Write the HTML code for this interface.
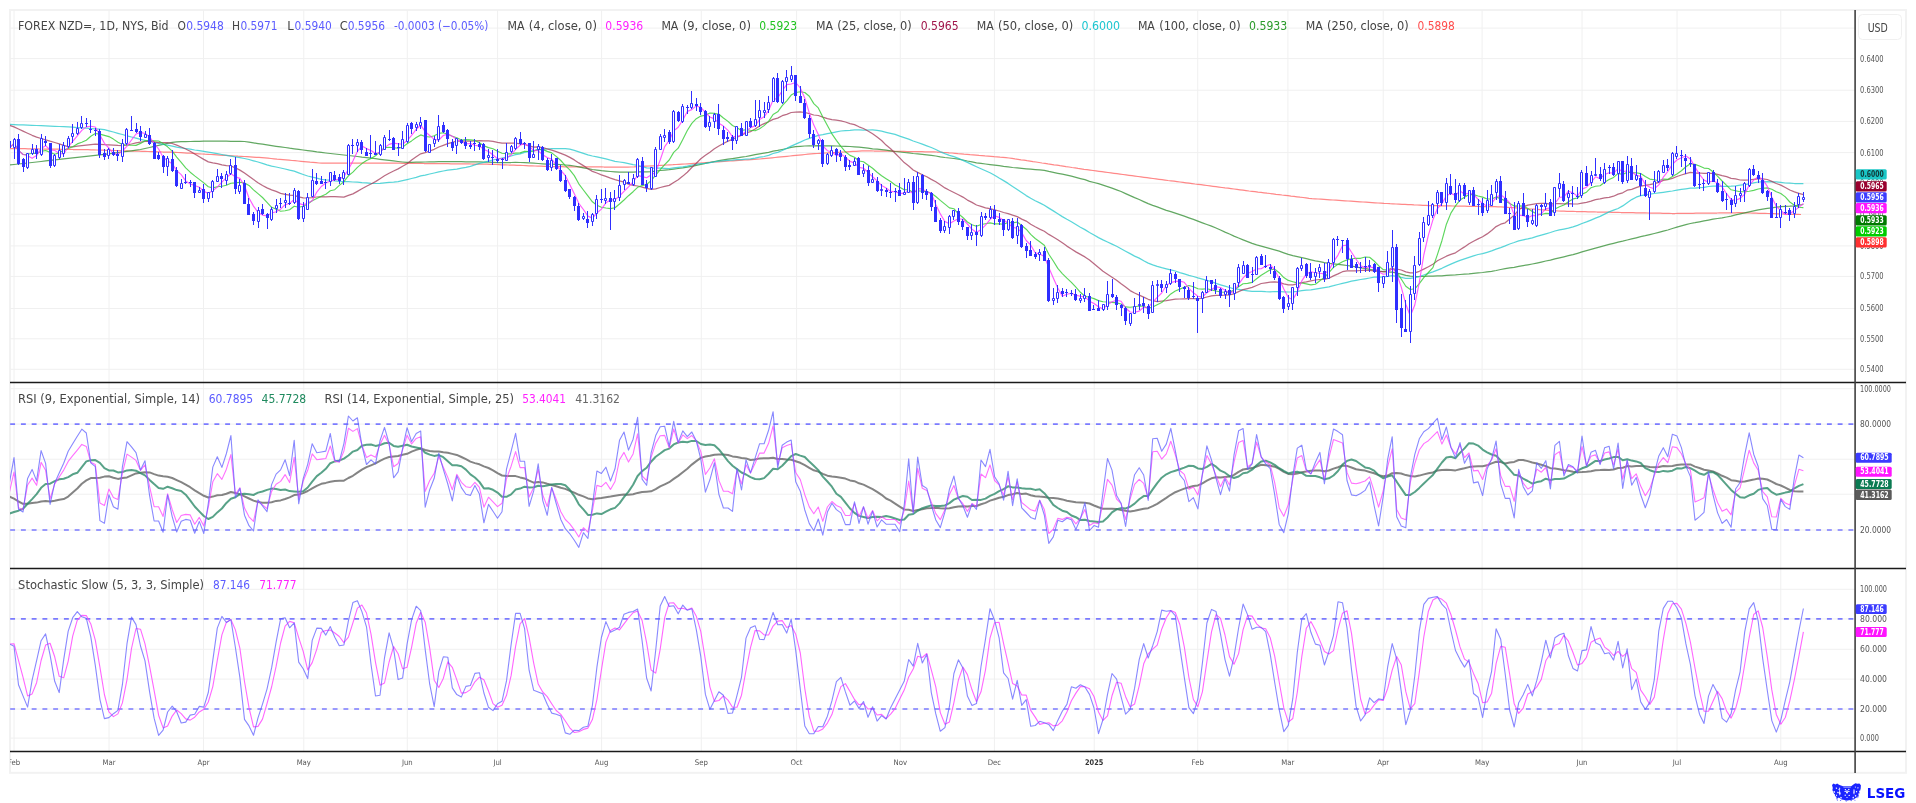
<!DOCTYPE html>
<html><head><meta charset="utf-8"><title>NZD chart</title>
<style>html,body{margin:0;padding:0;background:#fff;width:1916px;height:803px;overflow:hidden} svg{display:block;will-change:transform}</style>
</head><body><svg width="1916" height="803" viewBox="0 0 1916 803" font-family="'DejaVu Sans Condensed','DejaVu Sans',sans-serif"><rect x="10" y="10" width="1896" height="762.8" fill="none" stroke="#f2f2f2" stroke-width="2"/>
<line x1="10" y1="28.1" x2="1855" y2="28.1" stroke="#f0f0f0"/>
<line x1="10" y1="58.6" x2="1855" y2="58.6" stroke="#f0f0f0"/>
<line x1="10" y1="90.2" x2="1855" y2="90.2" stroke="#f0f0f0"/>
<line x1="10" y1="121.4" x2="1855" y2="121.4" stroke="#f0f0f0"/>
<line x1="10" y1="152.6" x2="1855" y2="152.6" stroke="#f0f0f0"/>
<line x1="10" y1="183.2" x2="1855" y2="183.2" stroke="#f0f0f0"/>
<line x1="10" y1="214.2" x2="1855" y2="214.2" stroke="#f0f0f0"/>
<line x1="10" y1="245.9" x2="1855" y2="245.9" stroke="#f0f0f0"/>
<line x1="10" y1="276.4" x2="1855" y2="276.4" stroke="#f0f0f0"/>
<line x1="10" y1="308.5" x2="1855" y2="308.5" stroke="#f0f0f0"/>
<line x1="10" y1="338.8" x2="1855" y2="338.8" stroke="#f0f0f0"/>
<line x1="10" y1="369.3" x2="1855" y2="369.3" stroke="#f0f0f0"/>
<line x1="10" y1="388.7" x2="1855" y2="388.7" stroke="#f0f0f0"/>
<line x1="10" y1="424.1" x2="1855" y2="424.1" stroke="#f0f0f0"/>
<line x1="10" y1="459.2" x2="1855" y2="459.2" stroke="#f0f0f0"/>
<line x1="10" y1="494.2" x2="1855" y2="494.2" stroke="#f0f0f0"/>
<line x1="10" y1="530" x2="1855" y2="530" stroke="#f0f0f0"/>
<line x1="10" y1="589.3" x2="1855" y2="589.3" stroke="#f0f0f0"/>
<line x1="10" y1="618.9" x2="1855" y2="618.9" stroke="#f0f0f0"/>
<line x1="10" y1="649.3" x2="1855" y2="649.3" stroke="#f0f0f0"/>
<line x1="10" y1="679.1" x2="1855" y2="679.1" stroke="#f0f0f0"/>
<line x1="10" y1="709" x2="1855" y2="709" stroke="#f0f0f0"/>
<line x1="10" y1="738.1" x2="1855" y2="738.1" stroke="#f0f0f0"/>
<line x1="14" y1="10" x2="14" y2="751" stroke="#f0f0f0"/>
<line x1="109" y1="10" x2="109" y2="751" stroke="#f0f0f0"/>
<line x1="203.5" y1="10" x2="203.5" y2="751" stroke="#f0f0f0"/>
<line x1="303.8" y1="10" x2="303.8" y2="751" stroke="#f0f0f0"/>
<line x1="407.3" y1="10" x2="407.3" y2="751" stroke="#f0f0f0"/>
<line x1="497.6" y1="10" x2="497.6" y2="751" stroke="#f0f0f0"/>
<line x1="601.6" y1="10" x2="601.6" y2="751" stroke="#f0f0f0"/>
<line x1="701.3" y1="10" x2="701.3" y2="751" stroke="#f0f0f0"/>
<line x1="796.6" y1="10" x2="796.6" y2="751" stroke="#f0f0f0"/>
<line x1="900.3" y1="10" x2="900.3" y2="751" stroke="#f0f0f0"/>
<line x1="994.4" y1="10" x2="994.4" y2="751" stroke="#f0f0f0"/>
<line x1="1094.2" y1="10" x2="1094.2" y2="751" stroke="#f0f0f0"/>
<line x1="1197.7" y1="10" x2="1197.7" y2="751" stroke="#f0f0f0"/>
<line x1="1287.9" y1="10" x2="1287.9" y2="751" stroke="#f0f0f0"/>
<line x1="1383.2" y1="10" x2="1383.2" y2="751" stroke="#f0f0f0"/>
<line x1="1482.1" y1="10" x2="1482.1" y2="751" stroke="#f0f0f0"/>
<line x1="1582" y1="10" x2="1582" y2="751" stroke="#f0f0f0"/>
<line x1="1677" y1="10" x2="1677" y2="751" stroke="#f0f0f0"/>
<line x1="1780.8" y1="10" x2="1780.8" y2="751" stroke="#f0f0f0"/>
<line x1="10.17" y1="424.1" x2="1855" y2="424.1" stroke="#7b7bff" stroke-width="1.7" stroke-dasharray="4.9 5.85"/>
<line x1="10.17" y1="530" x2="1855" y2="530" stroke="#7b7bff" stroke-width="1.7" stroke-dasharray="4.9 5.85"/>
<line x1="10.17" y1="618.9" x2="1855" y2="618.9" stroke="#7b7bff" stroke-width="1.7" stroke-dasharray="4.9 5.85"/>
<line x1="10.17" y1="709" x2="1855" y2="709" stroke="#7b7bff" stroke-width="1.7" stroke-dasharray="4.9 5.85"/>
<defs><clipPath id="cp"><rect x="10" y="10" width="1845" height="372"/></clipPath><clipPath id="cr"><rect x="10" y="383" width="1845" height="185"/></clipPath><clipPath id="cs"><rect x="10" y="569" width="1845" height="182"/></clipPath></defs>
<polyline points="10.0,148.5 13.0,148.5 16.0,148.6 19.0,148.6 22.0,148.7 25.0,148.7 28.0,148.8 31.0,148.8 34.0,148.9 37.0,148.9 40.0,149.0 43.0,149.0 46.0,149.1 49.0,149.1 52.0,149.1 55.0,149.2 58.0,149.2 61.0,149.3 64.0,149.3 67.0,149.4 70.0,149.4 73.0,149.5 76.0,149.5 79.0,149.6 82.0,149.6 85.0,149.7 88.0,149.7 91.0,149.8 94.0,149.9 97.0,150.0 100.0,150.1 103.0,150.2 106.0,150.3 109.0,150.3 112.0,150.4 115.0,150.5 118.0,150.6 121.0,150.7 124.0,150.8 127.0,150.9 130.0,151.0 133.0,151.1 136.0,151.2 139.0,151.2 142.0,151.3 145.0,151.4 148.0,151.5 151.0,151.6 154.0,151.7 157.0,151.8 160.0,151.9 163.0,152.0 166.0,152.0 169.0,152.1 172.0,152.2 175.0,152.3 178.0,152.5 181.0,152.7 184.0,152.9 187.0,153.1 190.0,153.2 193.0,153.4 196.0,153.6 199.0,153.8 202.0,154.0 205.0,154.2 208.0,154.3 211.0,154.5 214.0,154.7 217.0,154.9 220.0,155.1 223.0,155.3 226.0,155.4 229.0,155.6 232.0,155.8 235.0,156.0 238.0,156.2 241.0,156.3 244.0,156.5 247.0,156.7 250.0,156.9 253.0,157.1 256.0,157.3 259.0,157.4 262.0,157.6 265.0,157.9 268.0,158.2 271.0,158.5 274.0,158.8 277.0,159.1 280.0,159.3 283.0,159.6 286.0,159.9 289.0,160.2 292.0,160.5 295.0,160.7 298.0,161.0 301.0,161.3 304.0,161.6 307.0,161.9 310.0,162.2 313.0,162.4 316.0,162.7 319.0,163.0 322.0,163.1 325.0,163.1 328.0,163.1 331.0,163.1 334.0,163.1 337.0,163.1 340.0,163.1 343.0,163.1 346.0,163.1 349.0,163.1 352.0,163.1 355.0,163.1 358.0,163.1 361.0,163.2 364.0,163.2 367.0,163.2 370.0,163.2 373.0,163.2 376.0,163.2 379.0,163.2 382.0,163.2 385.0,163.2 388.0,163.2 391.0,163.2 394.0,163.2 397.0,163.2 400.0,163.2 403.0,163.3 406.0,163.3 409.0,163.3 412.0,163.4 415.0,163.4 418.0,163.4 421.0,163.4 424.0,163.5 427.0,163.5 430.0,163.5 433.0,163.6 436.0,163.6 439.0,163.6 442.0,163.7 445.0,163.7 448.0,163.7 451.0,163.8 454.0,163.8 457.0,163.8 460.0,163.8 463.0,163.9 466.0,163.9 469.0,163.9 472.0,164.0 475.0,164.0 478.0,164.0 481.0,164.1 484.0,164.1 487.0,164.2 490.0,164.3 493.0,164.4 496.0,164.5 499.0,164.6 502.0,164.8 505.0,164.9 508.0,165.0 511.0,165.1 514.0,165.2 517.0,165.3 520.0,165.4 523.0,165.5 526.0,165.6 529.0,165.8 532.0,165.9 535.0,166.0 538.0,166.1 541.0,166.2 544.0,166.3 547.0,166.4 550.0,166.5 553.0,166.7 556.0,166.7 559.0,166.7 562.0,166.7 565.0,166.8 568.0,166.8 571.0,166.8 574.0,166.8 577.0,166.8 580.0,166.8 583.0,166.9 586.0,166.9 589.0,166.9 592.0,166.9 595.0,166.9 598.0,166.9 601.0,166.9 604.0,167.0 607.0,167.0 610.0,167.0 613.0,167.0 616.0,167.0 619.0,167.0 622.0,167.1 625.0,167.1 628.0,167.1 631.0,167.0 634.0,166.9 637.0,166.7 640.0,166.5 643.0,166.4 646.0,166.2 649.0,166.0 652.0,165.8 655.0,165.7 658.0,165.5 661.0,165.3 664.0,165.2 667.0,165.0 670.0,164.8 673.0,164.7 676.0,164.5 679.0,164.3 682.0,164.1 685.0,164.0 688.0,163.8 691.0,163.6 694.0,163.4 697.0,163.2 700.0,163.0 703.0,162.8 706.0,162.6 709.0,162.4 712.0,162.2 715.0,162.0 718.0,161.8 721.0,161.6 724.0,161.4 727.0,161.2 730.0,161.0 733.0,160.8 736.0,160.6 739.0,160.4 742.0,160.2 745.0,160.0 748.0,159.8 751.0,159.6 754.0,159.4 757.0,159.2 760.0,159.0 763.0,158.7 766.0,158.4 769.0,158.1 772.0,157.8 775.0,157.5 778.0,157.2 781.0,156.9 784.0,156.6 787.0,156.3 790.0,156.0 793.0,155.7 796.0,155.4 799.0,155.1 802.0,154.8 805.0,154.5 808.0,154.2 811.0,153.9 814.0,153.7 817.0,153.5 820.0,153.3 823.0,153.2 826.0,153.0 829.0,152.8 832.0,152.6 835.0,152.5 838.0,152.3 841.0,152.1 844.0,152.0 847.0,151.8 850.0,151.6 853.0,151.4 856.0,151.3 859.0,151.1 862.0,150.9 865.0,150.8 868.0,150.9 871.0,150.9 874.0,151.0 877.0,151.0 880.0,151.1 883.0,151.1 886.0,151.1 889.0,151.2 892.0,151.2 895.0,151.3 898.0,151.3 901.0,151.4 904.0,151.4 907.0,151.5 910.0,151.5 913.0,151.6 916.0,151.6 919.0,151.7 922.0,151.7 925.0,151.8 928.0,151.8 931.0,151.9 934.0,151.9 937.0,152.0 940.0,152.0 943.0,152.3 946.0,152.5 949.0,152.8 952.0,153.0 955.0,153.3 958.0,153.6 961.0,153.8 964.0,154.1 967.0,154.3 970.0,154.6 973.0,154.8 976.0,155.1 979.0,155.4 982.0,155.6 985.0,155.9 988.0,156.1 991.0,156.4 994.0,156.7 997.0,156.9 1000.0,157.2 1003.0,157.4 1006.0,157.7 1009.0,158.0 1012.0,158.4 1015.0,158.9 1018.0,159.3 1021.0,159.8 1024.0,160.2 1027.0,160.7 1030.0,161.1 1033.0,161.6 1036.0,162.0 1039.0,162.5 1042.0,163.0 1045.0,163.4 1048.0,163.9 1051.0,164.3 1054.0,164.8 1057.0,165.2 1060.0,165.7 1063.0,166.1 1066.0,166.6 1069.0,167.0 1072.0,167.5 1075.0,167.9 1078.0,168.4 1081.0,168.8 1084.0,169.3 1087.0,169.7 1090.0,170.1 1093.0,170.5 1096.0,170.9 1099.0,171.3 1102.0,171.7 1105.0,172.1 1108.0,172.5 1111.0,172.9 1114.0,173.3 1117.0,173.7 1120.0,174.1 1123.0,174.5 1126.0,174.9 1129.0,175.3 1132.0,175.7 1135.0,176.1 1138.0,176.5 1141.0,176.9 1144.0,177.3 1147.0,177.7 1150.0,178.1 1153.0,178.5 1156.0,178.9 1159.0,179.3 1162.0,179.7 1165.0,180.1 1168.0,180.5 1171.0,180.8 1174.0,181.2 1177.0,181.6 1180.0,182.0 1183.0,182.4 1186.0,182.8 1189.0,183.2 1192.0,183.6 1195.0,184.0 1198.0,184.3 1201.0,184.7 1204.0,185.1 1207.0,185.5 1210.0,185.9 1213.0,186.3 1216.0,186.7 1219.0,187.1 1222.0,187.5 1225.0,187.9 1228.0,188.2 1231.0,188.6 1234.0,189.0 1237.0,189.4 1240.0,189.8 1243.0,190.2 1246.0,190.6 1249.0,191.0 1252.0,191.3 1255.0,191.7 1258.0,192.1 1261.0,192.4 1264.0,192.8 1267.0,193.2 1270.0,193.5 1273.0,193.9 1276.0,194.3 1279.0,194.6 1282.0,195.0 1285.0,195.3 1288.0,195.7 1291.0,196.1 1294.0,196.4 1297.0,196.8 1300.0,197.2 1303.0,197.5 1306.0,197.9 1309.0,198.3 1312.0,198.6 1315.0,198.8 1318.0,199.0 1321.0,199.2 1324.0,199.4 1327.0,199.6 1330.0,199.8 1333.0,200.0 1336.0,200.2 1339.0,200.4 1342.0,200.6 1345.0,200.8 1348.0,201.0 1351.0,201.2 1354.0,201.4 1357.0,201.6 1360.0,201.8 1363.0,202.0 1366.0,202.2 1369.0,202.4 1372.0,202.6 1375.0,202.8 1378.0,203.0 1381.0,203.2 1384.0,203.4 1387.0,203.5 1390.0,203.7 1393.0,203.8 1396.0,204.0 1399.0,204.1 1402.0,204.3 1405.0,204.4 1408.0,204.6 1411.0,204.7 1414.0,204.9 1417.0,205.0 1420.0,205.1 1423.0,205.3 1426.0,205.4 1429.0,205.6 1432.0,205.6 1435.0,205.7 1438.0,205.7 1441.0,205.8 1444.0,205.8 1447.0,205.9 1450.0,205.9 1453.0,206.0 1456.0,206.1 1459.0,206.1 1462.0,206.2 1465.0,206.2 1468.0,206.3 1471.0,206.3 1474.0,206.4 1477.0,206.4 1480.0,206.5 1483.0,206.5 1486.0,206.6 1489.0,206.6 1492.0,206.7 1495.0,206.7 1498.0,206.8 1501.0,206.8 1504.0,207.1 1507.0,207.3 1510.0,207.5 1513.0,207.7 1516.0,207.9 1519.0,208.1 1522.0,208.4 1525.0,208.6 1528.0,208.8 1531.0,209.0 1534.0,209.2 1537.0,209.4 1540.0,209.7 1543.0,209.9 1546.0,210.1 1549.0,210.3 1552.0,210.5 1555.0,210.7 1558.0,211.0 1561.0,211.1 1564.0,211.2 1567.0,211.3 1570.0,211.3 1573.0,211.4 1576.0,211.5 1579.0,211.5 1582.0,211.6 1585.0,211.7 1588.0,211.8 1591.0,211.8 1594.0,211.9 1597.0,212.0 1600.0,212.0 1603.0,212.1 1606.0,212.2 1609.0,212.2 1612.0,212.3 1615.0,212.4 1618.0,212.4 1621.0,212.5 1624.0,212.5 1627.0,212.6 1630.0,212.7 1633.0,212.7 1636.0,212.8 1639.0,212.8 1642.0,212.9 1645.0,212.9 1648.0,213.0 1651.0,213.1 1654.0,213.1 1657.0,213.2 1660.0,213.2 1663.0,213.3 1666.0,213.4 1669.0,213.4 1672.0,213.5 1675.0,213.5 1678.0,213.4 1681.0,213.4 1684.0,213.4 1687.0,213.3 1690.0,213.3 1693.0,213.3 1696.0,213.2 1699.0,213.2 1702.0,213.2 1705.0,213.1 1708.0,213.1 1711.0,213.1 1714.0,213.0 1717.0,213.0 1720.0,212.9 1723.0,212.9 1726.0,212.9 1729.0,212.8 1732.0,212.8 1735.0,212.8 1738.0,212.7 1741.0,212.7 1744.0,212.8 1747.0,212.9 1750.0,213.0 1753.0,213.1 1756.0,213.2 1759.0,213.3 1762.0,213.4 1765.0,213.4 1768.0,213.5 1771.0,213.6 1774.0,213.7 1777.0,213.8 1780.0,213.9 1783.0,214.0 1786.0,214.1 1789.0,214.2 1792.0,214.3 1795.0,214.4 1798.0,214.4 1801.0,214.5" fill="none" stroke="#ff5555" stroke-width="1.25" stroke-opacity="0.7" stroke-linejoin="round" clip-path="url(#cp)"/>
<polyline points="9.5,164.9 14.0,164.5 18.5,164.0 23.0,163.5 27.6,163.0 32.1,162.5 36.6,162.0 41.1,161.5 45.6,160.9 50.1,160.4 54.7,159.9 59.2,159.4 63.7,158.9 68.2,158.4 72.7,157.9 77.3,157.4 81.8,156.9 86.3,156.4 90.8,155.9 95.3,155.4 99.9,154.9 104.4,154.4 108.9,153.8 113.4,153.2 117.9,152.6 122.4,152.0 127.0,151.4 131.5,150.8 136.0,150.2 140.5,149.5 145.0,148.5 149.6,147.5 154.1,146.4 158.6,145.4 163.1,144.4 167.6,143.4 172.2,142.4 176.7,141.8 181.2,141.7 185.7,141.6 190.2,141.5 194.7,141.4 199.3,141.3 203.8,141.1 208.3,141.0 212.8,141.1 217.3,141.1 221.9,141.2 226.4,141.2 230.9,141.3 235.4,141.4 239.9,141.4 244.5,141.5 249.0,142.2 253.5,142.9 258.0,143.6 262.5,144.2 267.0,144.9 271.6,145.6 276.1,146.3 280.6,146.9 285.1,147.5 289.6,148.2 294.2,148.8 298.7,149.4 303.2,150.0 307.7,150.6 312.2,151.2 316.8,151.9 321.3,152.4 325.8,153.0 330.3,153.5 334.8,154.0 339.3,154.5 343.9,155.0 348.4,155.5 352.9,156.0 357.4,156.5 361.9,157.1 366.5,157.6 371.0,158.2 375.5,158.7 380.0,159.3 384.5,159.8 389.1,160.4 393.6,160.9 398.1,161.5 402.6,162.0 407.1,162.4 411.6,162.3 416.2,162.2 420.7,162.1 425.2,162.0 429.7,161.9 434.2,161.8 438.8,161.7 443.3,161.6 447.8,161.5 452.3,161.5 456.8,161.5 461.4,161.6 465.9,161.8 470.4,161.9 474.9,161.9 479.4,161.9 483.9,162.1 488.5,162.2 493.0,162.4 497.5,162.6 502.0,162.6 506.5,162.5 511.1,162.5 515.6,162.4 520.1,162.5 524.6,162.6 529.1,162.9 533.7,163.2 538.2,163.5 542.7,163.8 547.2,164.1 551.7,164.2 556.2,164.3 560.8,164.7 565.3,165.0 569.8,165.4 574.3,166.0 578.8,166.9 583.4,167.8 587.9,168.7 592.4,169.5 596.9,170.1 601.4,170.7 605.9,171.1 610.5,171.5 615.0,171.8 619.5,172.1 624.0,172.2 628.5,172.2 633.1,172.1 637.6,171.9 642.1,171.9 646.6,171.8 651.1,171.6 655.7,171.1 660.2,170.5 664.7,170.1 669.2,169.7 673.7,169.1 678.2,168.5 682.8,167.9 687.3,167.1 691.8,166.3 696.3,165.3 700.8,164.3 705.4,163.4 709.9,162.5 714.4,161.5 718.9,160.6 723.4,159.9 728.0,159.2 732.5,158.6 737.0,157.9 741.5,157.2 746.0,156.5 750.5,155.6 755.1,154.7 759.6,153.8 764.1,153.1 768.6,152.3 773.1,151.2 777.7,150.4 782.2,149.5 786.7,148.5 791.2,147.4 795.7,146.7 800.3,146.3 804.8,146.0 809.3,145.9 813.8,145.8 818.3,145.7 822.8,145.8 827.4,145.8 831.9,145.8 836.4,146.0 840.9,146.2 845.4,146.3 850.0,146.5 854.5,146.8 859.0,147.2 863.5,147.7 868.0,148.2 872.6,148.8 877.1,149.2 881.6,149.7 886.1,150.2 890.6,150.9 895.1,151.5 899.7,152.0 904.2,152.5 908.7,152.9 913.2,153.5 917.7,153.8 922.3,154.3 926.8,154.8 931.3,155.4 935.8,156.0 940.3,156.8 944.9,157.5 949.4,158.0 953.9,158.5 958.4,159.2 962.9,160.0 967.4,161.0 972.0,161.9 976.5,162.8 981.0,163.4 985.5,164.0 990.0,164.6 994.6,165.2 999.1,165.7 1003.6,166.4 1008.1,166.9 1012.6,167.5 1017.2,167.9 1021.7,168.4 1026.2,168.8 1030.7,169.2 1035.2,169.6 1039.7,169.9 1044.3,170.3 1048.8,171.4 1053.3,172.3 1057.8,173.3 1062.3,174.2 1066.9,175.1 1071.4,176.2 1075.9,177.4 1080.4,178.6 1084.9,179.7 1089.5,181.3 1094.0,182.5 1098.5,183.7 1103.0,185.1 1107.5,186.6 1112.0,188.2 1116.6,189.9 1121.1,191.5 1125.6,193.6 1130.1,195.6 1134.6,197.6 1139.2,199.5 1143.7,201.6 1148.2,203.6 1152.7,205.4 1157.2,206.9 1161.7,208.6 1166.3,210.3 1170.8,211.7 1175.3,213.1 1179.8,214.6 1184.3,216.1 1188.9,217.8 1193.4,219.4 1197.9,221.2 1202.4,222.9 1206.9,224.5 1211.5,226.2 1216.0,228.0 1220.5,230.0 1225.0,232.1 1229.5,234.0 1234.0,236.1 1238.6,238.0 1243.1,239.9 1247.6,241.7 1252.1,243.4 1256.6,244.8 1261.2,246.1 1265.7,247.3 1270.2,248.6 1274.7,249.8 1279.2,251.2 1283.8,252.8 1288.3,254.3 1292.8,255.6 1297.3,256.6 1301.8,257.6 1306.3,258.7 1310.9,259.8 1315.4,260.8 1319.9,261.6 1324.4,262.6 1328.9,263.3 1333.5,263.8 1338.0,264.3 1342.5,264.8 1347.0,265.5 1351.5,266.2 1356.1,266.9 1360.6,267.8 1365.1,268.4 1369.6,269.3 1374.1,270.1 1378.6,271.0 1383.2,271.7 1387.7,272.1 1392.2,272.2 1396.7,273.1 1401.2,274.2 1405.8,275.4 1410.3,276.1 1414.8,276.5 1419.3,276.5 1423.8,276.4 1428.4,276.2 1432.9,276.1 1437.4,275.9 1441.9,275.8 1446.4,275.4 1450.9,275.2 1455.5,274.9 1460.0,274.5 1464.5,274.1 1469.0,273.8 1473.5,273.3 1478.1,272.9 1482.6,272.5 1487.1,271.9 1491.6,271.3 1496.1,270.5 1500.7,269.5 1505.2,268.7 1509.7,267.9 1514.2,267.3 1518.7,266.4 1523.2,265.6 1527.8,264.8 1532.3,264.0 1536.8,263.1 1541.3,262.1 1545.8,261.0 1550.4,260.1 1554.9,258.9 1559.4,257.8 1563.9,256.8 1568.4,255.7 1573.0,254.6 1577.5,253.3 1582.0,251.9 1586.5,250.7 1591.0,249.4 1595.5,248.1 1600.1,246.8 1604.6,245.6 1609.1,244.4 1613.6,243.3 1618.1,242.1 1622.7,241.2 1627.2,240.0 1631.7,238.9 1636.2,237.8 1640.7,236.7 1645.3,235.7 1649.8,234.6 1654.3,233.5 1658.8,232.4 1663.3,231.2 1667.8,230.0 1672.4,228.5 1676.9,227.2 1681.4,225.8 1685.9,224.6 1690.4,223.5 1695.0,222.7 1699.5,221.8 1704.0,220.9 1708.5,220.1 1713.0,219.2 1717.5,218.5 1722.1,217.8 1726.6,217.0 1731.1,216.1 1735.6,214.9 1740.1,213.8 1744.7,212.8 1749.2,211.8 1753.7,210.9 1758.2,209.9 1762.7,209.1 1767.3,208.3 1771.8,207.8 1776.3,207.2 1780.8,206.7 1785.3,206.4 1789.8,206.2 1794.4,205.8 1798.9,205.2 1803.4,204.5" fill="none" stroke="#2e8b2e" stroke-width="1.25" stroke-opacity="0.75" stroke-linejoin="round" clip-path="url(#cp)"/>
<polyline points="9.5,124.4 14.0,124.6 18.5,124.8 23.0,124.9 27.6,125.1 32.1,125.3 36.6,125.5 41.1,125.7 45.6,125.9 50.1,126.1 54.7,126.3 59.2,126.5 63.7,126.7 68.2,126.9 72.7,127.2 77.3,127.6 81.8,127.9 86.3,128.2 90.8,128.6 95.3,128.9 99.9,129.2 104.4,129.6 108.9,130.8 113.4,132.0 117.9,133.3 122.4,134.5 127.0,135.8 131.5,137.0 136.0,138.2 140.5,139.4 145.0,140.4 149.6,141.4 154.1,142.3 158.6,143.3 163.1,144.3 167.6,145.2 172.2,146.2 176.7,147.1 181.2,147.8 185.7,148.5 190.2,149.2 194.7,150.0 199.3,150.7 203.8,151.4 208.3,152.1 212.8,152.9 217.3,153.7 221.9,154.5 226.4,155.3 230.9,156.1 235.4,156.9 239.9,157.7 244.5,158.5 249.0,159.5 253.5,160.8 258.0,162.0 262.5,163.3 267.0,164.9 271.6,166.2 276.1,167.0 280.6,168.0 285.1,169.0 289.6,170.2 294.2,171.2 298.7,172.9 303.2,174.5 307.7,176.0 312.2,177.1 316.8,178.2 321.3,179.3 325.8,179.8 330.3,180.1 334.8,180.8 339.3,181.3 343.9,181.6 348.4,181.6 352.9,182.0 357.4,182.2 361.9,182.6 366.5,182.9 371.0,183.3 375.5,183.5 380.0,183.3 384.5,182.8 389.1,182.3 393.6,182.1 398.1,181.7 402.6,180.7 407.1,179.6 411.6,178.5 416.2,177.3 420.7,175.9 425.2,175.1 429.7,174.0 434.2,173.0 438.8,171.9 443.3,171.0 447.8,170.2 452.3,169.7 456.8,169.1 461.4,168.2 465.9,167.4 470.4,166.3 474.9,164.9 479.4,163.4 483.9,162.4 488.5,161.2 493.0,160.0 497.5,159.0 502.0,158.1 506.5,157.1 511.1,156.0 515.6,154.7 520.1,153.8 524.6,152.3 529.1,151.3 533.7,150.5 538.2,149.8 542.7,149.3 547.2,149.0 551.7,148.6 556.2,148.5 560.8,148.5 565.3,148.7 569.8,149.2 574.3,150.4 578.8,151.9 583.4,153.4 587.9,154.8 592.4,156.0 596.9,156.9 601.4,157.8 605.9,158.9 610.5,160.2 615.0,161.3 619.5,162.0 624.0,162.7 628.5,163.6 633.1,164.6 637.6,165.3 642.1,166.5 646.6,167.8 651.1,168.1 655.7,168.2 660.2,168.1 664.7,168.3 669.2,168.5 673.7,167.9 678.2,167.4 682.8,166.8 687.3,166.1 691.8,165.2 696.3,164.4 700.8,163.7 705.4,163.4 709.9,162.6 714.4,161.8 718.9,161.2 723.4,160.8 728.0,160.3 732.5,160.1 737.0,159.7 741.5,159.6 746.0,159.2 750.5,158.8 755.1,158.1 759.6,157.2 764.1,156.5 768.6,155.3 773.1,153.5 777.7,152.3 782.2,150.5 786.7,148.4 791.2,146.1 795.7,144.1 800.3,142.1 804.8,140.0 809.3,138.4 813.8,136.8 818.3,135.4 822.8,134.7 827.4,133.7 831.9,132.8 836.4,131.8 840.9,131.0 845.4,130.6 850.0,130.4 854.5,129.9 859.0,129.8 863.5,130.1 868.0,130.0 872.6,129.8 877.1,130.3 881.6,131.1 886.1,132.3 890.6,133.4 895.1,134.4 899.7,136.1 904.2,137.6 908.7,139.1 913.2,141.0 917.7,142.5 922.3,144.2 926.8,145.9 931.3,147.5 935.8,149.5 940.3,151.8 944.9,153.7 949.4,155.3 953.9,156.7 958.4,158.3 962.9,160.4 967.4,162.4 972.0,164.6 976.5,166.7 981.0,168.7 985.5,170.8 990.0,172.8 994.6,175.2 999.1,178.0 1003.6,180.6 1008.1,183.4 1012.6,186.6 1017.2,189.6 1021.7,192.6 1026.2,195.6 1030.7,198.3 1035.2,200.8 1039.7,202.9 1044.3,205.3 1048.8,208.1 1053.3,210.9 1057.8,213.8 1062.3,216.6 1066.9,219.3 1071.4,221.8 1075.9,224.5 1080.4,227.2 1084.9,229.6 1089.5,232.5 1094.0,235.0 1098.5,237.6 1103.0,239.9 1107.5,242.0 1112.0,244.1 1116.6,246.3 1121.1,248.7 1125.6,251.2 1130.1,253.6 1134.6,256.1 1139.2,258.1 1143.7,260.7 1148.2,263.1 1152.7,264.9 1157.2,266.4 1161.7,267.7 1166.3,268.8 1170.8,269.8 1175.3,271.0 1179.8,272.6 1184.3,273.9 1188.9,275.3 1193.4,276.5 1197.9,277.9 1202.4,279.1 1206.9,280.4 1211.5,281.7 1216.0,283.3 1220.5,284.8 1225.0,286.2 1229.5,287.5 1234.0,288.8 1238.6,289.4 1243.1,290.2 1247.6,290.8 1252.1,291.3 1256.6,291.3 1261.2,291.4 1265.7,291.7 1270.2,291.9 1274.7,291.5 1279.2,291.5 1283.8,291.8 1288.3,292.0 1292.8,291.9 1297.3,291.4 1301.8,290.7 1306.3,290.2 1310.9,289.9 1315.4,289.1 1319.9,288.3 1324.4,287.6 1328.9,286.8 1333.5,285.7 1338.0,284.5 1342.5,283.3 1347.0,282.3 1351.5,281.2 1356.1,280.3 1360.6,279.5 1365.1,278.8 1369.6,278.0 1374.1,277.1 1378.6,277.1 1383.2,276.9 1387.7,276.4 1392.2,275.7 1396.7,276.4 1401.2,277.4 1405.8,278.3 1410.3,278.4 1414.8,277.7 1419.3,276.5 1423.8,275.0 1428.4,273.4 1432.9,271.9 1437.4,270.1 1441.9,268.3 1446.4,266.1 1450.9,264.1 1455.5,262.2 1460.0,260.3 1464.5,258.9 1469.0,257.4 1473.5,255.9 1478.1,254.5 1482.6,253.6 1487.1,252.3 1491.6,250.9 1496.1,249.1 1500.7,247.6 1505.2,245.9 1509.7,244.0 1514.2,242.5 1518.7,240.8 1523.2,239.8 1527.8,238.9 1532.3,237.8 1536.8,236.4 1541.3,235.1 1545.8,233.8 1550.4,232.5 1554.9,231.0 1559.4,229.9 1563.9,229.1 1568.4,228.2 1573.0,226.9 1577.5,225.4 1582.0,223.5 1586.5,221.9 1591.0,220.1 1595.5,218.2 1600.1,216.4 1604.6,214.1 1609.1,211.9 1613.6,210.2 1618.1,208.5 1622.7,205.9 1627.2,202.7 1631.7,199.6 1636.2,197.2 1640.7,195.6 1645.3,194.8 1649.8,194.2 1654.3,193.5 1658.8,192.9 1663.3,192.3 1667.8,191.6 1672.4,191.0 1676.9,190.2 1681.4,189.3 1685.9,188.8 1690.4,188.2 1695.0,188.1 1699.5,187.7 1704.0,187.3 1708.5,186.5 1713.0,186.1 1717.5,186.1 1722.1,186.4 1726.6,186.4 1731.1,186.2 1735.6,185.8 1740.1,185.1 1744.7,184.7 1749.2,183.8 1753.7,182.8 1758.2,182.0 1762.7,181.8 1767.3,181.6 1771.8,181.9 1776.3,181.9 1780.8,182.4 1785.3,183.0 1789.8,183.2 1794.4,183.5 1798.9,183.5 1803.4,183.5" fill="none" stroke="#22c8cc" stroke-width="1.25" stroke-opacity="0.75" stroke-linejoin="round" clip-path="url(#cp)"/>
<polyline points="9.5,125.3 14.0,126.9 18.5,129.0 23.0,131.1 27.6,133.2 32.1,135.3 36.6,137.1 41.1,138.5 45.6,139.8 50.1,141.2 54.7,142.5 59.2,143.9 63.7,145.3 68.2,146.6 72.7,146.8 77.3,146.2 81.8,145.7 86.3,145.1 90.8,144.6 95.3,144.1 99.9,144.3 104.4,144.6 108.9,144.8 113.4,145.1 117.9,145.4 122.4,145.6 127.0,145.0 131.5,144.0 136.0,142.9 140.5,142.1 145.0,141.5 149.6,141.1 154.1,141.9 158.6,142.6 163.1,142.6 167.6,142.7 172.2,143.5 176.7,145.2 181.2,147.0 185.7,149.0 190.2,151.2 194.7,154.0 199.3,156.7 203.8,159.4 208.3,161.9 212.8,162.9 217.3,163.7 221.9,164.9 226.4,165.7 230.9,166.0 235.4,167.8 239.9,170.1 244.5,173.0 249.0,176.3 253.5,179.6 258.0,182.7 262.5,185.5 267.0,187.9 271.6,189.9 276.1,191.4 280.6,193.3 285.1,194.4 289.6,195.1 294.2,195.4 298.7,196.9 303.2,197.8 307.7,198.0 312.2,197.6 316.8,197.0 321.3,196.7 325.8,196.8 330.3,196.6 334.8,196.6 339.3,196.9 343.9,197.2 348.4,195.4 352.9,193.9 357.4,191.4 361.9,188.8 366.5,186.2 371.0,184.0 375.5,181.6 380.0,178.7 384.5,175.8 389.1,173.2 393.6,171.0 398.1,168.9 402.6,166.3 407.1,163.7 411.6,160.1 416.2,156.8 420.7,153.8 425.2,152.7 429.7,151.0 434.2,149.3 438.8,147.0 443.3,145.4 447.8,143.7 452.3,142.4 456.8,141.0 461.4,141.0 465.9,141.0 470.4,141.1 474.9,140.9 479.4,140.6 483.9,140.8 488.5,140.8 493.0,141.3 497.5,142.3 502.0,143.1 506.5,143.2 511.1,143.1 515.6,143.1 520.1,143.9 524.6,144.5 529.1,145.9 533.7,147.1 538.2,146.9 542.7,147.6 547.2,148.8 551.7,150.2 556.2,151.6 560.8,153.3 565.3,155.1 569.8,157.4 574.3,159.9 578.8,162.9 583.4,165.6 587.9,168.8 592.4,171.4 596.9,173.0 601.4,174.8 605.9,176.4 610.5,178.1 615.0,179.6 619.5,180.9 624.0,182.2 628.5,184.1 633.1,185.4 637.6,186.0 642.1,187.1 646.6,188.4 651.1,189.3 655.7,188.8 660.2,187.5 664.7,186.4 669.2,185.4 673.7,182.5 678.2,179.7 682.8,176.1 687.3,172.2 691.8,167.5 696.3,163.2 700.8,158.7 705.4,155.3 709.9,152.2 714.4,148.7 718.9,146.0 723.4,143.5 728.0,141.1 732.5,139.3 737.0,137.2 741.5,135.2 746.0,132.9 750.5,131.6 755.1,129.0 759.6,125.9 764.1,123.6 768.6,121.8 773.1,119.4 777.7,118.1 782.2,115.7 786.7,114.3 791.2,112.5 795.7,112.2 800.3,111.9 804.8,112.5 809.3,113.7 813.8,115.0 818.3,115.5 822.8,117.2 827.4,118.7 831.9,119.6 836.4,120.2 840.9,120.9 845.4,122.0 850.0,123.6 854.5,124.6 859.0,126.8 863.5,128.5 868.0,131.0 872.6,133.8 877.1,137.0 881.6,140.5 886.1,145.1 890.6,148.7 895.1,153.2 899.7,157.9 904.2,162.6 908.7,166.0 913.2,170.0 917.7,172.4 922.3,174.7 926.8,176.8 931.3,179.4 935.8,181.8 940.3,184.8 944.9,187.9 949.4,190.3 953.9,192.5 958.4,194.7 962.9,197.1 967.4,200.1 972.0,202.4 976.5,205.0 981.0,206.3 985.5,207.8 990.0,208.6 994.6,209.8 999.1,211.0 1003.6,212.5 1008.1,213.6 1012.6,215.2 1017.2,216.6 1021.7,219.1 1026.2,221.1 1030.7,224.2 1035.2,226.8 1039.7,229.1 1044.3,231.2 1048.8,234.4 1053.3,237.0 1057.8,239.7 1062.3,242.8 1066.9,246.1 1071.4,249.0 1075.9,251.9 1080.4,254.4 1084.9,256.9 1089.5,260.0 1094.0,263.7 1098.5,267.4 1103.0,271.2 1107.5,274.2 1112.0,277.2 1116.6,280.2 1121.1,283.8 1125.6,287.1 1130.1,290.6 1134.6,293.0 1139.2,295.1 1143.7,297.1 1148.2,299.3 1152.7,300.7 1157.2,301.6 1161.7,301.1 1166.3,300.6 1170.8,299.8 1175.3,299.2 1179.8,299.0 1184.3,298.8 1188.9,298.7 1193.4,298.7 1197.9,298.9 1202.4,298.2 1206.9,297.0 1211.5,295.9 1216.0,295.4 1220.5,295.4 1225.0,295.2 1229.5,294.8 1234.0,293.8 1238.6,291.6 1243.1,289.7 1247.6,288.6 1252.1,287.4 1256.6,285.5 1261.2,283.5 1265.7,282.8 1270.2,282.2 1274.7,281.8 1279.2,282.4 1283.8,283.8 1288.3,284.8 1292.8,284.8 1297.3,283.9 1301.8,282.6 1306.3,281.8 1310.9,280.8 1315.4,280.0 1319.9,279.5 1324.4,279.3 1328.9,278.2 1333.5,275.9 1338.0,273.9 1342.5,271.7 1347.0,270.8 1351.5,270.8 1356.1,270.9 1360.6,270.5 1365.1,270.2 1369.6,270.5 1374.1,270.8 1378.6,271.4 1383.2,271.7 1387.7,271.1 1392.2,269.0 1396.7,269.0 1401.2,270.0 1405.8,271.8 1410.3,272.8 1414.8,272.8 1419.3,271.3 1423.8,269.1 1428.4,266.8 1432.9,264.3 1437.4,260.8 1441.9,258.5 1446.4,256.2 1450.9,254.4 1455.5,252.8 1460.0,249.8 1464.5,246.9 1469.0,243.8 1473.5,241.3 1478.1,238.9 1482.6,236.8 1487.1,233.9 1491.6,230.4 1496.1,226.6 1500.7,224.2 1505.2,222.8 1509.7,219.0 1514.2,215.1 1518.7,209.9 1523.2,206.8 1527.8,205.1 1532.3,204.4 1536.8,203.7 1541.3,203.3 1545.8,203.3 1550.4,204.2 1554.9,203.6 1559.4,203.6 1563.9,203.9 1568.4,203.6 1573.0,203.9 1577.5,204.0 1582.0,203.2 1586.5,202.4 1591.0,201.2 1595.5,199.7 1600.1,198.8 1604.6,197.8 1609.1,197.3 1613.6,196.2 1618.1,194.1 1622.7,192.8 1627.2,190.2 1631.7,189.3 1636.2,187.7 1640.7,186.2 1645.3,185.3 1649.8,184.7 1654.3,183.7 1658.8,182.4 1663.3,180.4 1667.8,179.6 1672.4,178.4 1676.9,176.5 1681.4,175.0 1685.9,173.7 1690.4,172.4 1695.0,173.0 1699.5,173.0 1704.0,173.3 1708.5,173.3 1713.0,173.4 1717.5,174.3 1722.1,175.6 1726.6,176.6 1731.1,178.3 1735.6,178.9 1740.1,180.0 1744.7,180.1 1749.2,179.9 1753.7,179.4 1758.2,178.8 1762.7,178.9 1767.3,179.5 1771.8,181.4 1776.3,183.5 1780.8,185.1 1785.3,187.5 1789.8,190.0 1794.4,191.9 1798.9,193.3 1803.4,194.6" fill="none" stroke="#a33a5a" stroke-width="1.25" stroke-opacity="0.75" stroke-linejoin="round" clip-path="url(#cp)"/>
<polyline points="9.5,148.0 14.0,143.4 18.5,150.4 23.0,154.5 27.6,154.2 32.1,153.3 36.6,153.4 41.1,151.4 45.6,150.5 50.1,152.4 54.7,154.3 59.2,152.7 63.7,150.2 68.2,148.5 72.7,146.8 77.3,143.9 81.8,142.3 86.3,140.2 90.8,136.2 95.3,133.5 99.9,134.1 104.4,135.4 108.9,136.6 113.4,139.1 117.9,142.2 122.4,144.5 127.0,145.2 131.5,145.2 136.0,145.4 140.5,143.4 145.0,140.8 149.6,140.3 154.1,140.7 158.6,141.0 163.1,143.6 167.6,146.8 172.2,151.2 176.7,157.2 181.2,162.4 185.7,167.8 190.2,172.2 194.7,175.9 199.3,179.4 203.8,182.9 208.3,186.7 212.8,187.9 217.3,186.7 221.9,186.3 226.4,185.3 230.9,183.3 235.4,182.9 239.9,182.3 244.5,182.9 249.0,185.4 253.5,189.9 258.0,193.6 262.5,197.5 267.0,202.4 271.6,207.3 276.1,209.1 280.6,211.2 285.1,210.8 289.6,209.7 294.2,206.2 298.7,207.2 303.2,206.3 307.7,204.0 312.2,200.7 316.8,198.4 321.3,196.2 325.8,194.3 330.3,190.8 334.8,189.7 339.3,185.4 343.9,181.7 348.4,175.8 352.9,172.1 357.4,167.4 361.9,163.6 366.5,160.5 371.0,158.5 375.5,155.7 380.0,151.7 384.5,147.8 389.1,147.3 393.6,147.7 398.1,148.3 402.6,147.1 407.1,143.7 411.6,140.9 416.2,137.5 420.7,134.9 425.2,136.5 429.7,137.0 434.2,135.8 438.8,133.4 443.3,132.7 447.8,134.2 452.3,136.3 456.8,137.8 461.4,140.1 465.9,139.6 470.4,139.9 474.9,140.4 479.4,142.7 483.9,145.7 488.5,147.6 493.0,148.7 497.5,151.3 502.0,153.2 506.5,153.8 511.1,153.8 515.6,153.1 520.1,152.9 524.6,151.2 529.1,151.5 533.7,151.1 538.2,149.4 542.7,149.4 547.2,151.4 551.7,152.9 556.2,156.4 560.8,160.5 565.3,165.7 569.8,169.9 574.3,175.6 578.8,183.8 583.4,190.0 587.9,195.9 592.4,201.8 596.9,205.2 601.4,207.3 605.9,208.0 610.5,208.6 615.0,207.8 619.5,204.0 624.0,200.0 628.5,195.7 633.1,191.7 637.6,187.3 642.1,185.6 646.6,184.5 651.1,180.6 655.7,175.1 660.2,169.6 664.7,164.6 669.2,160.0 673.7,152.4 678.2,148.2 682.8,139.4 687.3,130.5 691.8,123.4 696.3,118.7 700.8,116.1 705.4,115.3 709.9,113.0 714.4,113.4 718.9,114.3 723.4,118.0 728.0,121.4 732.5,125.5 737.0,127.8 741.5,130.4 746.0,129.7 750.5,130.3 755.1,130.8 759.6,128.7 764.1,125.6 768.6,121.4 773.1,114.5 777.7,111.8 782.2,105.7 786.7,100.8 791.2,95.1 795.7,92.5 800.3,91.7 804.8,92.5 809.3,96.2 813.8,103.6 818.3,107.9 822.8,117.1 827.4,125.6 831.9,133.8 836.4,140.3 840.9,146.4 845.4,151.8 850.0,155.4 854.5,157.2 859.0,161.0 863.5,161.8 868.0,165.0 872.6,168.2 877.1,172.3 881.6,175.8 886.1,178.7 890.6,181.5 895.1,185.0 899.7,187.3 904.2,189.8 908.7,189.7 913.2,192.4 917.7,190.8 922.3,191.2 926.8,191.6 931.3,193.2 935.8,196.5 940.3,200.4 944.9,204.1 949.4,207.9 953.9,208.7 958.4,213.8 962.9,217.5 967.4,222.0 972.0,224.8 976.5,226.2 981.0,224.5 985.5,223.7 990.0,222.9 994.6,223.9 999.1,223.9 1003.6,224.2 1008.1,222.4 1012.6,223.0 1017.2,222.0 1021.7,225.5 1026.2,229.2 1030.7,234.3 1035.2,238.5 1039.7,241.8 1044.3,245.2 1048.8,254.3 1053.3,261.0 1057.8,268.4 1062.3,273.6 1066.9,278.2 1071.4,282.4 1075.9,287.2 1080.4,292.3 1084.9,296.2 1089.5,297.3 1094.0,298.6 1098.5,300.6 1103.0,301.8 1107.5,302.0 1112.0,302.4 1116.6,302.9 1121.1,304.0 1125.6,306.9 1130.1,307.2 1134.6,306.8 1139.2,306.0 1143.7,306.2 1148.2,308.4 1152.7,307.0 1157.2,304.7 1161.7,302.5 1166.3,298.4 1170.8,293.9 1175.3,291.0 1179.8,289.1 1184.3,287.3 1188.9,285.5 1193.4,286.8 1197.9,288.7 1202.4,289.1 1206.9,288.7 1211.5,289.9 1216.0,291.0 1220.5,292.0 1225.0,292.2 1229.5,291.9 1234.0,290.4 1238.6,286.7 1243.1,283.7 1247.6,283.4 1252.1,282.4 1256.6,278.8 1261.2,275.3 1265.7,272.6 1270.2,269.7 1274.7,269.2 1279.2,272.7 1283.8,277.6 1288.3,280.4 1292.8,281.7 1297.3,282.9 1301.8,283.0 1306.3,283.9 1310.9,284.9 1315.4,284.3 1319.9,280.7 1324.4,277.3 1328.9,272.7 1333.5,267.4 1338.0,264.3 1342.5,261.7 1347.0,259.9 1351.5,258.7 1356.1,258.3 1360.6,258.3 1365.1,257.0 1369.6,257.3 1374.1,261.0 1378.6,265.7 1383.2,269.6 1387.7,270.0 1392.2,267.7 1396.7,272.3 1401.2,279.0 1405.8,286.2 1410.3,289.5 1414.8,288.8 1419.3,283.7 1423.8,277.7 1428.4,272.5 1432.9,267.6 1437.4,254.6 1441.9,240.7 1446.4,224.2 1450.9,213.1 1455.5,205.9 1460.0,200.1 1464.5,197.2 1469.0,194.4 1473.5,194.6 1478.1,196.0 1482.6,197.1 1487.1,199.0 1491.6,199.0 1496.1,196.9 1500.7,198.9 1505.2,200.8 1509.7,203.4 1514.2,206.1 1518.7,205.9 1523.2,206.1 1527.8,208.5 1532.3,211.4 1536.8,214.0 1541.3,214.5 1545.8,213.4 1550.4,213.6 1554.9,208.9 1559.4,206.7 1563.9,205.0 1568.4,201.8 1573.0,198.9 1577.5,198.0 1582.0,194.1 1586.5,192.2 1591.0,187.7 1595.5,186.2 1600.1,185.7 1604.6,182.2 1609.1,179.5 1613.6,177.4 1618.1,173.4 1622.7,174.5 1627.2,172.2 1631.7,172.6 1636.2,172.8 1640.7,173.6 1645.3,176.6 1649.8,179.1 1654.3,179.8 1658.8,180.8 1663.3,179.0 1667.8,179.4 1672.4,176.4 1676.9,174.0 1681.4,170.7 1685.9,166.8 1690.4,163.8 1695.0,164.4 1699.5,166.0 1704.0,168.1 1708.5,168.5 1713.0,171.8 1717.5,176.1 1722.1,181.0 1726.6,185.3 1731.1,189.8 1735.6,190.8 1740.1,191.7 1744.7,191.6 1749.2,191.2 1753.7,190.4 1758.2,189.0 1762.7,188.2 1767.3,187.9 1771.8,189.3 1776.3,191.8 1780.8,193.5 1785.3,196.9 1789.8,202.0 1794.4,205.3 1798.9,207.2 1803.4,207.6" fill="none" stroke="#33cc33" stroke-width="1.15" stroke-opacity="0.8" stroke-linejoin="round" clip-path="url(#cp)"/>
<polyline points="9.5,148.0 14.0,143.4 18.5,150.4 23.0,154.5 27.6,155.8 32.1,158.3 36.6,155.6 41.1,148.4 45.6,145.7 50.1,150.0 54.7,150.4 59.2,153.5 63.7,154.0 68.2,147.0 72.7,141.4 77.3,135.9 81.8,130.4 86.3,126.9 90.8,126.3 95.3,127.0 99.9,135.0 104.4,143.3 108.9,148.0 113.4,153.9 117.9,154.4 122.4,151.0 127.0,146.1 131.5,140.0 136.0,134.0 140.5,132.4 145.0,133.5 149.6,136.9 154.1,143.5 158.6,149.0 163.1,157.3 167.6,160.7 172.2,163.7 176.7,170.6 181.2,174.6 185.7,180.9 190.2,184.0 194.7,185.5 199.3,187.3 203.8,191.2 208.3,193.5 212.8,190.6 217.3,187.1 221.9,182.2 226.4,177.7 230.9,173.8 235.4,176.9 239.9,178.4 244.5,185.7 249.0,198.0 253.5,206.1 258.0,212.4 262.5,215.1 267.0,216.0 271.6,213.0 276.1,211.8 280.6,209.2 285.1,204.7 289.6,203.4 294.2,199.5 298.7,203.4 303.2,204.9 307.7,203.1 312.2,200.8 316.8,192.1 321.3,186.5 325.8,183.0 330.3,181.0 334.8,180.0 339.3,179.1 343.9,176.4 348.4,169.5 352.9,161.1 357.4,151.5 361.9,145.9 366.5,148.6 371.0,150.5 375.5,153.5 380.0,152.4 384.5,147.7 389.1,144.4 393.6,143.1 398.1,143.7 402.6,144.2 407.1,140.5 411.6,135.3 416.2,129.3 420.7,125.2 425.2,131.6 429.7,135.5 434.2,139.4 438.8,140.2 443.3,135.5 447.8,134.1 452.3,136.2 456.8,139.3 461.4,142.0 465.9,143.8 470.4,143.6 474.9,145.2 479.4,146.1 483.9,149.4 488.5,151.5 493.0,155.0 497.5,158.6 502.0,158.8 506.5,158.0 511.1,155.0 515.6,149.3 520.1,145.3 524.6,143.4 529.1,146.4 533.7,150.4 538.2,150.7 542.7,154.7 547.2,157.6 551.7,159.2 556.2,165.0 560.8,170.3 565.3,175.5 569.8,184.6 574.3,193.7 578.8,203.3 583.4,209.5 587.9,216.1 592.4,218.1 596.9,213.0 601.4,209.1 605.9,202.8 610.5,199.9 615.0,199.7 619.5,196.0 624.0,191.4 628.5,186.9 633.1,181.9 637.6,175.4 642.1,176.6 646.6,177.7 651.1,174.9 655.7,172.3 660.2,160.0 664.7,146.6 669.2,140.4 673.7,130.9 678.2,127.2 682.8,120.0 687.3,111.4 691.8,109.6 696.3,105.9 700.8,107.5 705.4,112.3 709.9,117.0 714.4,118.9 718.9,123.2 723.4,126.1 728.0,130.3 732.5,136.9 737.0,136.2 741.5,135.4 746.0,131.1 750.5,127.6 755.1,125.9 759.6,119.5 764.1,116.8 768.6,110.4 773.1,100.0 777.7,98.0 782.2,90.7 786.7,84.6 791.2,84.0 795.7,82.5 800.3,88.0 804.8,98.2 809.3,112.9 813.8,125.1 818.3,134.5 822.8,145.9 827.4,150.7 831.9,152.0 836.4,155.6 840.9,153.9 845.4,157.2 850.0,161.4 854.5,163.0 859.0,167.4 863.5,168.3 868.0,172.3 872.6,176.8 877.1,180.9 881.6,185.6 886.1,188.0 890.6,191.4 895.1,191.7 899.7,193.3 904.2,193.3 908.7,190.8 913.2,193.5 917.7,188.6 922.3,188.9 926.8,192.1 931.3,193.1 935.8,204.5 940.3,213.9 944.9,221.5 949.4,223.8 953.9,220.9 958.4,218.7 962.9,219.2 967.4,224.0 972.0,229.3 976.5,232.5 981.0,229.6 985.5,225.2 990.0,219.6 994.6,215.8 999.1,217.4 1003.6,220.3 1008.1,222.8 1012.6,227.4 1017.2,228.2 1021.7,232.5 1026.2,240.5 1030.7,245.0 1035.2,252.8 1039.7,254.1 1044.3,256.4 1048.8,267.6 1053.3,277.9 1057.8,288.0 1062.3,296.3 1066.9,294.3 1071.4,293.2 1075.9,295.2 1080.4,296.3 1084.9,296.9 1089.5,301.2 1094.0,303.5 1098.5,306.7 1103.0,308.9 1107.5,304.8 1112.0,301.7 1116.6,300.3 1121.1,301.3 1125.6,308.0 1130.1,312.0 1134.6,312.3 1139.2,311.1 1143.7,307.3 1148.2,307.5 1152.7,302.2 1157.2,297.3 1161.7,293.0 1166.3,285.5 1170.8,282.6 1175.3,281.4 1179.8,281.1 1184.3,282.3 1188.9,288.4 1193.4,292.8 1197.9,296.3 1202.4,297.0 1206.9,292.7 1211.5,289.6 1216.0,286.7 1220.5,287.6 1225.0,290.3 1229.5,293.1 1234.0,291.4 1238.6,284.3 1243.1,277.8 1247.6,273.5 1252.1,271.5 1256.6,268.9 1261.2,268.8 1265.7,266.1 1270.2,264.5 1274.7,269.9 1279.2,278.5 1283.8,289.0 1288.3,297.6 1292.8,299.8 1297.3,291.9 1301.8,280.9 1306.3,274.1 1310.9,271.7 1315.4,272.8 1319.9,273.3 1324.4,274.0 1328.9,270.1 1333.5,261.9 1338.0,255.1 1342.5,245.8 1347.0,245.1 1351.5,252.3 1356.1,259.2 1360.6,265.8 1365.1,267.6 1369.6,266.9 1374.1,267.9 1378.6,271.8 1383.2,274.2 1387.7,273.6 1392.2,267.4 1396.7,273.9 1401.2,286.9 1405.8,304.2 1410.3,316.0 1414.8,305.0 1419.3,282.4 1423.8,255.0 1428.4,235.2 1432.9,219.8 1437.4,208.5 1441.9,203.7 1446.4,195.7 1450.9,193.4 1455.5,195.4 1460.0,190.9 1464.5,194.2 1469.0,193.0 1473.5,194.4 1478.1,199.4 1482.6,203.6 1487.1,206.2 1491.6,203.4 1496.1,197.4 1500.7,194.8 1505.2,198.1 1509.7,202.9 1514.2,215.0 1518.7,215.1 1523.2,215.6 1527.8,217.7 1532.3,215.4 1536.8,215.7 1541.3,213.6 1545.8,208.9 1550.4,207.8 1554.9,203.4 1559.4,197.5 1563.9,196.8 1568.4,191.2 1573.0,192.9 1577.5,196.3 1582.0,189.1 1586.5,187.2 1591.0,182.5 1595.5,176.8 1600.1,178.6 1604.6,174.5 1609.1,172.7 1613.6,173.1 1618.1,168.7 1622.7,171.8 1627.2,170.8 1631.7,171.8 1636.2,175.3 1640.7,176.4 1645.3,184.4 1649.8,187.3 1654.3,188.8 1658.8,184.9 1663.3,177.2 1667.8,171.5 1672.4,164.4 1676.9,160.0 1681.4,157.8 1685.9,156.0 1690.4,158.9 1695.0,167.1 1699.5,174.4 1704.0,180.1 1708.5,182.1 1713.0,181.0 1717.5,182.7 1722.1,186.9 1726.6,193.7 1731.1,199.6 1735.6,200.3 1740.1,198.4 1744.7,194.2 1749.2,185.1 1753.7,180.1 1758.2,176.7 1762.7,179.2 1767.3,186.4 1771.8,196.9 1776.3,206.6 1780.8,210.5 1785.3,214.5 1789.8,213.7 1794.4,210.6 1798.9,207.4 1803.4,203.4" fill="none" stroke="#ff33ff" stroke-width="1.15" stroke-opacity="0.8" stroke-linejoin="round" clip-path="url(#cp)"/>
<g clip-path="url(#cp)"><path d="M9.5 140V148 M14.5 138V139M14.5 148V159 M18.5 134V165 M23.5 158V172 M27.5 153V153M27.5 168V169 M32.5 144V149M32.5 154V155 M36.5 145V159 M41.5 134V138M41.5 155V156 M45.5 136V146 M50.5 143V168 M54.5 154V155M54.5 166V167 M59.5 144V150M59.5 158V159 M63.5 142V145M63.5 154V157 M68.5 136V138M68.5 147V148 M72.5 124V133M72.5 137V143 M77.5 122V128M77.5 134V135 M81.5 116V123M81.5 128V129 M86.5 118V127 M90.5 120V133 M95.5 128V136 M99.5 129V158 M104.5 149V160 M108.5 148V149M108.5 156V159 M113.5 148V156 M117.5 150V161 M122.5 139V143M122.5 157V162 M126.5 128V129M126.5 144V145 M131.5 116V131 M136.5 123V133 M140.5 126V141 M145.5 131V134M145.5 138V138 M149.5 128V145 M154.5 142V159 M158.5 152V160 M163.5 155V173 M167.5 156V158M167.5 167V176 M172.5 150V172 M176.5 167V187 M181.5 179V183M181.5 189V189 M185.5 174V184 M190.5 180V187 M194.5 182V198 M199.5 187V190M199.5 193V193 M203.5 184V203 M208.5 192V192M208.5 199V202 M212.5 180V181M212.5 192V198 M217.5 169V176M217.5 182V182 M221.5 173V188 M226.5 171V174M226.5 181V185 M230.5 159V165M230.5 174V175 M235.5 157V194 M239.5 179V185M239.5 192V194 M244.5 180V204 M248.5 198V215 M253.5 212V225 M258.5 207V210M258.5 222V228 M262.5 204V215 M267.5 213V229 M271.5 207V209M271.5 220V221 M276.5 199V205M276.5 209V213 M280.5 198V208 M285.5 193V200M285.5 203V208 M289.5 193V205 M294.5 188V190M294.5 203V204 M298.5 190V220 M303.5 202V206M303.5 219V222 M307.5 193V197M307.5 210V210 M312.5 169V180M312.5 197V197 M316.5 173V185 M321.5 176V184 M325.5 179V189 M330.5 172V172M330.5 182V186 M334.5 171V181 M339.5 174V184 M343.5 170V172M343.5 179V185 M348.5 144V145M348.5 175V175 M352.5 139V154 M357.5 139V142M357.5 146V152 M361.5 140V154 M366.5 148V156 M370.5 135V158 M375.5 141V155 M380.5 144V145M380.5 155V156 M384.5 135V137M384.5 150V150 M389.5 130V141 M393.5 137V150 M398.5 143V156 M402.5 131V139M402.5 149V149 M407.5 123V125M407.5 142V143 M411.5 122V134 M416.5 122V124M416.5 128V131 M420.5 117V122M420.5 126V129 M425.5 120V152 M429.5 144V144M429.5 153V153 M434.5 136V139M434.5 144V147 M438.5 115V126M438.5 140V142 M443.5 122V133 M447.5 129V147 M452.5 139V151 M456.5 138V138M456.5 146V154 M461.5 139V144 M465.5 137V149 M470.5 141V149 M474.5 139V151 M479.5 142V150 M483.5 143V160 M488.5 149V155M488.5 158V162 M492.5 150V165 M497.5 149V163 M502.5 158V169 M506.5 143V152M506.5 161V161 M511.5 145V146M511.5 152V153 M515.5 137V138M515.5 149V150 M520.5 132V145 M524.5 142V149 M529.5 143V162 M533.5 141V154M533.5 158V158 M538.5 144V146M538.5 150V160 M542.5 146V161 M547.5 158V171 M551.5 154V160M551.5 168V171 M556.5 158V170 M560.5 165V182 M565.5 175V192 M569.5 189V199 M574.5 196V211 M578.5 203V221 M583.5 213V216M583.5 219V220 M587.5 211V228 M592.5 213V214M592.5 222V226 M596.5 195V199M596.5 214V219 M601.5 189V203 M605.5 188V198M605.5 201V204 M610.5 192V230 M614.5 190V198M614.5 202V210 M619.5 175V185M619.5 198V201 M624.5 179V180M624.5 185V190 M628.5 172V184 M633.5 174V178M633.5 185V186 M637.5 158V159M637.5 177V178 M642.5 157V185 M646.5 180V192 M651.5 167V167M651.5 189V190 M655.5 147V149M655.5 177V177 M660.5 134V136M660.5 150V150 M664.5 129V135M664.5 138V142 M669.5 130V144 M673.5 110V111M673.5 142V143 M678.5 111V122 M682.5 104V106M682.5 122V123 M687.5 105V114 M691.5 91V103M691.5 108V109 M696.5 98V111 M700.5 103V115 M705.5 110V128 M709.5 116V122M709.5 127V131 M714.5 113V114M714.5 122V128 M718.5 104V135 M723.5 126V145 M727.5 132V142 M732.5 135V150 M736.5 126V126M736.5 141V144 M741.5 123V136 M746.5 121V121M746.5 136V136 M750.5 118V128 M755.5 100V119M755.5 126V127 M759.5 100V110M759.5 118V127 M764.5 102V110M764.5 113V118 M768.5 96V102M768.5 110V113 M773.5 77V78M773.5 102V102 M777.5 73V103 M782.5 80V81M782.5 103V104 M786.5 70V77M786.5 82V91 M791.5 66V75M791.5 80V82 M795.5 75V101 M800.5 86V103 M804.5 99V119 M809.5 115V138 M813.5 130V148 M818.5 139V140M818.5 144V150 M822.5 139V167 M827.5 153V154M827.5 164V165 M831.5 146V150M831.5 156V157 M836.5 148V162 M840.5 150V161 M845.5 155V171 M849.5 160V170 M854.5 158V161M854.5 166V166 M858.5 157V175 M863.5 164V170M863.5 174V177 M868.5 166V186 M872.5 173V179M872.5 183V183 M877.5 177V192 M881.5 184V189M881.5 191V196 M886.5 188V197 M890.5 183V198 M895.5 188V202 M899.5 183V196 M904.5 178V192M904.5 195V195 M908.5 179V182M908.5 193V193 M913.5 176V210 M917.5 172V176M917.5 203V204 M922.5 174V199 M926.5 189V200 M931.5 192V211 M935.5 200V222 M940.5 218V233 M944.5 221V226M944.5 231V233 M949.5 215V216M949.5 228V234 M953.5 210V210M953.5 217V220 M958.5 208V225 M962.5 219V230 M967.5 227V240 M971.5 224V232M971.5 236V240 M976.5 225V246 M981.5 212V216M981.5 236V237 M985.5 213V220 M990.5 206V209M990.5 218V219 M994.5 205V225 M999.5 213V225 M1003.5 219V236 M1008.5 219V219M1008.5 230V231 M1012.5 218V239 M1017.5 218V226M1017.5 236V244 M1021.5 224V248 M1026.5 243V258 M1030.5 241V256 M1035.5 252V259 M1039.5 249V252M1039.5 255V261 M1044.5 247V261 M1048.5 258V302 M1053.5 288V298M1053.5 301V305 M1057.5 285V292M1057.5 299V303 M1062.5 288V297 M1066.5 289V297 M1071.5 290V296 M1075.5 289V301 M1080.5 294V298M1080.5 301V303 M1084.5 288V295M1084.5 299V302 M1089.5 293V311 M1093.5 305V310 M1098.5 300V311 M1103.5 304V304M1103.5 310V311 M1107.5 281V294M1107.5 307V310 M1112.5 279V298 M1116.5 295V310 M1121.5 304V316 M1125.5 307V325 M1130.5 313V313M1130.5 324V326 M1134.5 298V306M1134.5 314V314 M1139.5 292V304M1139.5 306V310 M1143.5 297V313 M1148.5 304V319 M1152.5 281V285M1152.5 313V313 M1157.5 280V284M1157.5 286V302 M1161.5 280V292 M1166.5 281V284M1166.5 288V293 M1170.5 269V273M1170.5 284V285 M1175.5 272V283 M1179.5 279V292 M1184.5 286V298 M1188.5 287V300 M1193.5 282V299 M1197.5 296V333 M1202.5 291V292M1202.5 299V313 M1206.5 276V280M1206.5 293V293 M1211.5 280V291 M1215.5 279V294 M1220.5 288V298 M1225.5 289V291M1225.5 295V299 M1229.5 285V307 M1234.5 283V283M1234.5 294V300 M1238.5 264V267M1238.5 283V287 M1243.5 261V265M1243.5 274V274 M1247.5 264V278 M1252.5 267V283 M1256.5 256V257M1256.5 275V275 M1261.5 254V265 M1265.5 255V268 M1270.5 264V274 M1274.5 266V280 M1279.5 276V300 M1283.5 296V313 M1288.5 295V303M1288.5 307V310 M1292.5 287V287M1292.5 304V310 M1297.5 267V268M1297.5 288V296 M1301.5 258V265M1301.5 269V271 M1306.5 263V278 M1310.5 263V280 M1315.5 268V272M1315.5 277V283 M1319.5 264V267M1319.5 272V278 M1324.5 263V282 M1328.5 259V262M1328.5 279V279 M1333.5 238V239M1333.5 263V268 M1337.5 236V246 M1342.5 240V253 M1347.5 238V270 M1351.5 255V268 M1356.5 262V273 M1360.5 262V273 M1365.5 257V272 M1369.5 260V265M1369.5 267V272 M1374.5 263V273 M1378.5 267V292 M1383.5 276V276M1383.5 284V288 M1387.5 251V262M1387.5 277V277 M1392.5 230V247M1392.5 267V282 M1396.5 244V323 M1401.5 294V337 M1405.5 300V332 M1410.5 286V294M1410.5 332V343 M1414.5 256V265M1414.5 294V300 M1419.5 232V238M1419.5 265V266 M1423.5 217V222M1423.5 238V242 M1428.5 201V215M1428.5 225V226 M1432.5 203V204M1432.5 216V218 M1437.5 190V192M1437.5 204V214 M1441.5 192V206 M1446.5 178V183M1446.5 203V210 M1450.5 174V195 M1455.5 179V203 M1459.5 183V185M1459.5 201V202 M1464.5 183V199 M1469.5 190V190M1469.5 203V205 M1473.5 187V206 M1478.5 199V215 M1482.5 198V216 M1487.5 190V200M1487.5 211V213 M1491.5 185V194M1491.5 206V206 M1496.5 179V181M1496.5 193V200 M1500.5 176V203 M1505.5 191V214 M1509.5 208V224 M1514.5 202V230 M1518.5 201V203M1518.5 229V230 M1523.5 193V216 M1527.5 209V227 M1532.5 209V220M1532.5 224V225 M1536.5 204V205M1536.5 226V227 M1541.5 204V216 M1545.5 193V203M1545.5 207V210 M1550.5 199V216 M1554.5 187V187M1554.5 213V216 M1559.5 173V183M1559.5 189V197 M1563.5 181V202 M1568.5 190V193M1568.5 198V207 M1572.5 186V207 M1577.5 187V199 M1581.5 170V172M1581.5 196V198 M1586.5 166V186 M1591.5 171V175M1591.5 183V186 M1595.5 158V174M1595.5 176V176 M1600.5 167V181 M1604.5 163V169M1604.5 183V184 M1609.5 165V174 M1613.5 163V176 M1618.5 161V161M1618.5 174V181 M1622.5 161V184 M1627.5 156V164M1627.5 181V183 M1631.5 158V180 M1636.5 165V175M1636.5 180V181 M1640.5 173V196 M1645.5 180V197 M1649.5 189V191M1649.5 198V220 M1654.5 171V181M1654.5 192V193 M1658.5 170V171M1658.5 182V183 M1663.5 160V165M1663.5 173V173 M1667.5 159V171 M1672.5 152V153M1672.5 175V176 M1676.5 146V153M1676.5 157V159 M1681.5 150V167 M1685.5 154V174 M1690.5 157V167 M1694.5 164V187 M1699.5 172V189 M1703.5 179V191 M1708.5 172V172M1708.5 184V185 M1713.5 170V182 M1717.5 179V193 M1722.5 181V202 M1726.5 193V210 M1731.5 198V213 M1735.5 186V195M1735.5 204V207 M1740.5 188V193M1740.5 196V202 M1744.5 182V183M1744.5 191V202 M1749.5 168V169M1749.5 186V187 M1753.5 165V176 M1758.5 171V183 M1762.5 173V194 M1767.5 190V201 M1771.5 192V218 M1776.5 203V218 M1780.5 205V209M1780.5 218V228 M1785.5 205V214 M1789.5 208V221 M1794.5 202V206M1794.5 214V218 M1798.5 193V196M1798.5 205V208 M1803.5 192V197M1803.5 200V202" stroke="#2f2fff" stroke-width="1" fill="none"/>
<path d="M8.0 141h3V148h-3Z M17.0 139h3V164h-3Z M22.0 159h3V167h-3Z M35.0 149h3V154h-3Z M44.0 141h3V143h-3Z M49.0 143h3V166h-3Z M85.0 123h3V124h-3Z M89.0 129h3V130h-3Z M94.0 130h3V131h-3Z M98.0 131h3V155h-3Z M103.0 153h3V157h-3Z M112.0 152h3V155h-3Z M116.0 154h3V156h-3Z M130.0 130h3V131h-3Z M135.0 129h3V132h-3Z M139.0 131h3V137h-3Z M148.0 135h3V144h-3Z M153.0 143h3V159h-3Z M157.0 155h3V159h-3Z M162.0 156h3V167h-3Z M171.0 159h3V171h-3Z M175.0 170h3V186h-3Z M184.0 182h3V183h-3Z M189.0 182h3V183h-3Z M193.0 182h3V193h-3Z M202.0 189h3V199h-3Z M220.0 176h3V179h-3Z M234.0 165h3V189h-3Z M243.0 183h3V204h-3Z M247.0 204h3V215h-3Z M252.0 214h3V221h-3Z M261.0 209h3V214h-3Z M266.0 214h3V218h-3Z M279.0 203h3V204h-3Z M288.0 203h3V204h-3Z M297.0 191h3V219h-3Z M315.0 181h3V184h-3Z M320.0 181h3V184h-3Z M324.0 182h3V183h-3Z M333.0 175h3V180h-3Z M338.0 177h3V181h-3Z M351.0 145h3V146h-3Z M360.0 142h3V150h-3Z M365.0 152h3V156h-3Z M369.0 153h3V154h-3Z M374.0 153h3V155h-3Z M388.0 139h3V140h-3Z M392.0 138h3V150h-3Z M397.0 147h3V148h-3Z M410.0 123h3V129h-3Z M424.0 120h3V151h-3Z M442.0 125h3V132h-3Z M446.0 130h3V139h-3Z M451.0 142h3V148h-3Z M460.0 140h3V143h-3Z M464.0 142h3V146h-3Z M469.0 145h3V147h-3Z M473.0 143h3V144h-3Z M478.0 144h3V147h-3Z M482.0 144h3V159h-3Z M491.0 157h3V158h-3Z M496.0 159h3V161h-3Z M501.0 159h3V160h-3Z M519.0 139h3V144h-3Z M523.0 143h3V144h-3Z M528.0 143h3V158h-3Z M541.0 147h3V160h-3Z M546.0 160h3V170h-3Z M555.0 158h3V169h-3Z M559.0 170h3V181h-3Z M564.0 180h3V191h-3Z M568.0 189h3V197h-3Z M573.0 197h3V206h-3Z M577.0 206h3V220h-3Z M586.0 219h3V223h-3Z M600.0 199h3V200h-3Z M609.0 198h3V202h-3Z M627.0 182h3V184h-3Z M641.0 161h3V185h-3Z M645.0 184h3V188h-3Z M668.0 132h3V142h-3Z M677.0 112h3V121h-3Z M686.0 107h3V108h-3Z M695.0 104h3V106h-3Z M699.0 107h3V112h-3Z M704.0 111h3V127h-3Z M717.0 114h3V129h-3Z M722.0 130h3V139h-3Z M726.0 137h3V139h-3Z M731.0 137h3V141h-3Z M740.0 128h3V136h-3Z M749.0 121h3V127h-3Z M776.0 78h3V102h-3Z M794.0 75h3V96h-3Z M799.0 96h3V103h-3Z M803.0 103h3V118h-3Z M808.0 118h3V134h-3Z M812.0 134h3V145h-3Z M821.0 140h3V164h-3Z M835.0 149h3V155h-3Z M839.0 153h3V157h-3Z M844.0 157h3V167h-3Z M848.0 165h3V167h-3Z M857.0 158h3V175h-3Z M867.0 170h3V183h-3Z M876.0 181h3V191h-3Z M885.0 190h3V192h-3Z M889.0 192h3V193h-3Z M894.0 191h3V192h-3Z M898.0 190h3V196h-3Z M912.0 182h3V203h-3Z M921.0 175h3V193h-3Z M925.0 191h3V195h-3Z M930.0 193h3V207h-3Z M934.0 207h3V222h-3Z M939.0 220h3V231h-3Z M957.0 211h3V222h-3Z M961.0 221h3V227h-3Z M966.0 227h3V236h-3Z M975.0 232h3V235h-3Z M984.0 216h3V218h-3Z M993.0 210h3V219h-3Z M998.0 219h3V222h-3Z M1002.0 219h3V230h-3Z M1011.0 221h3V238h-3Z M1020.0 225h3V247h-3Z M1025.0 246h3V251h-3Z M1029.0 250h3V256h-3Z M1034.0 254h3V257h-3Z M1043.0 251h3V261h-3Z M1047.0 260h3V301h-3Z M1061.0 291h3V294h-3Z M1065.0 292h3V293h-3Z M1070.0 293h3V294h-3Z M1074.0 294h3V300h-3Z M1088.0 296h3V311h-3Z M1092.0 309h3V310h-3Z M1097.0 308h3V311h-3Z M1111.0 294h3V297h-3Z M1115.0 297h3V305h-3Z M1120.0 305h3V308h-3Z M1124.0 308h3V321h-3Z M1142.0 303h3V306h-3Z M1147.0 306h3V314h-3Z M1160.0 284h3V288h-3Z M1174.0 274h3V279h-3Z M1178.0 279h3V287h-3Z M1183.0 287h3V289h-3Z M1187.0 290h3V298h-3Z M1192.0 296h3V297h-3Z M1196.0 298h3V301h-3Z M1210.0 280h3V284h-3Z M1214.0 285h3V290h-3Z M1219.0 289h3V296h-3Z M1228.0 290h3V295h-3Z M1246.0 265h3V278h-3Z M1251.0 274h3V275h-3Z M1260.0 256h3V265h-3Z M1264.0 266h3V267h-3Z M1269.0 267h3V269h-3Z M1273.0 271h3V278h-3Z M1278.0 278h3V299h-3Z M1282.0 297h3V309h-3Z M1305.0 264h3V276h-3Z M1309.0 272h3V278h-3Z M1323.0 271h3V279h-3Z M1336.0 239h3V240h-3Z M1341.0 240h3V241h-3Z M1346.0 240h3V259h-3Z M1350.0 259h3V268h-3Z M1355.0 264h3V268h-3Z M1359.0 267h3V268h-3Z M1364.0 266h3V267h-3Z M1373.0 264h3V272h-3Z M1377.0 267h3V283h-3Z M1395.0 247h3V310h-3Z M1400.0 308h3V328h-3Z M1404.0 329h3V332h-3Z M1440.0 192h3V203h-3Z M1449.0 186h3V194h-3Z M1454.0 193h3V200h-3Z M1463.0 185h3V196h-3Z M1472.0 190h3V206h-3Z M1477.0 204h3V205h-3Z M1481.0 203h3V213h-3Z M1499.0 181h3V203h-3Z M1504.0 198h3V214h-3Z M1508.0 213h3V214h-3Z M1513.0 216h3V230h-3Z M1522.0 203h3V216h-3Z M1526.0 215h3V222h-3Z M1540.0 205h3V207h-3Z M1549.0 202h3V216h-3Z M1562.0 184h3V201h-3Z M1571.0 193h3V194h-3Z M1576.0 196h3V197h-3Z M1585.0 173h3V186h-3Z M1599.0 174h3V179h-3Z M1608.0 167h3V168h-3Z M1612.0 167h3V175h-3Z M1621.0 161h3V182h-3Z M1630.0 166h3V180h-3Z M1639.0 178h3V186h-3Z M1644.0 188h3V196h-3Z M1666.0 165h3V168h-3Z M1680.0 155h3V156h-3Z M1684.0 158h3V161h-3Z M1689.0 163h3V164h-3Z M1693.0 164h3V186h-3Z M1698.0 184h3V185h-3Z M1702.0 183h3V184h-3Z M1712.0 172h3V182h-3Z M1716.0 183h3V192h-3Z M1721.0 191h3V201h-3Z M1725.0 199h3V200h-3Z M1730.0 200h3V205h-3Z M1752.0 169h3V175h-3Z M1757.0 175h3V179h-3Z M1761.0 180h3V193h-3Z M1766.0 191h3V197h-3Z M1770.0 198h3V218h-3Z M1775.0 217h3V218h-3Z M1784.0 212h3V213h-3Z M1788.0 210h3V215h-3Z" fill="#2f2fff" stroke="none"/>
<path d="M13.5 139.5h2V147.5h-2Z M26.5 153.5h2V167.5h-2Z M31.5 149.5h2V153.5h-2Z M40.5 138.5h2V154.5h-2Z M53.5 155.5h2V165.5h-2Z M58.5 150.5h2V157.5h-2Z M62.5 145.5h2V153.5h-2Z M67.5 138.5h2V146.5h-2Z M71.5 133.5h2V136.5h-2Z M76.5 128.5h2V133.5h-2Z M80.5 123.5h2V127.5h-2Z M107.5 149.5h2V155.5h-2Z M121.5 143.5h2V156.5h-2Z M125.5 129.5h2V143.5h-2Z M144.5 134.5h2V137.5h-2Z M166.5 158.5h2V166.5h-2Z M180.5 183.5h2V188.5h-2Z M198.5 190.5h2V192.5h-2Z M207.5 192.5h2V198.5h-2Z M211.5 181.5h2V191.5h-2Z M216.5 176.5h2V181.5h-2Z M225.5 174.5h2V180.5h-2Z M229.5 165.5h2V173.5h-2Z M238.5 185.5h2V191.5h-2Z M257.5 210.5h2V221.5h-2Z M270.5 209.5h2V219.5h-2Z M275.5 205.5h2V208.5h-2Z M284.5 200.5h2V202.5h-2Z M293.5 190.5h2V202.5h-2Z M302.5 206.5h2V218.5h-2Z M306.5 197.5h2V209.5h-2Z M311.5 180.5h2V196.5h-2Z M329.5 172.5h2V181.5h-2Z M342.5 172.5h2V178.5h-2Z M347.5 145.5h2V174.5h-2Z M356.5 142.5h2V145.5h-2Z M379.5 145.5h2V154.5h-2Z M383.5 137.5h2V149.5h-2Z M401.5 139.5h2V148.5h-2Z M406.5 125.5h2V141.5h-2Z M415.5 124.5h2V127.5h-2Z M419.5 122.5h2V125.5h-2Z M428.5 144.5h2V152.5h-2Z M433.5 139.5h2V143.5h-2Z M437.5 126.5h2V139.5h-2Z M455.5 138.5h2V145.5h-2Z M487.5 155.5h2V157.5h-2Z M505.5 152.5h2V160.5h-2Z M510.5 146.5h2V151.5h-2Z M514.5 138.5h2V148.5h-2Z M532.5 154.5h2V157.5h-2Z M537.5 146.5h2V149.5h-2Z M550.5 160.5h2V167.5h-2Z M582.5 216.5h2V218.5h-2Z M591.5 214.5h2V221.5h-2Z M595.5 199.5h2V213.5h-2Z M604.5 198.5h2V200.5h-2Z M613.5 198.5h2V201.5h-2Z M618.5 185.5h2V197.5h-2Z M623.5 180.5h2V184.5h-2Z M632.5 178.5h2V184.5h-2Z M636.5 159.5h2V176.5h-2Z M650.5 167.5h2V188.5h-2Z M654.5 149.5h2V176.5h-2Z M659.5 136.5h2V149.5h-2Z M663.5 135.5h2V137.5h-2Z M672.5 111.5h2V141.5h-2Z M681.5 106.5h2V121.5h-2Z M690.5 103.5h2V107.5h-2Z M708.5 122.5h2V126.5h-2Z M713.5 114.5h2V121.5h-2Z M735.5 126.5h2V140.5h-2Z M745.5 121.5h2V135.5h-2Z M754.5 119.5h2V125.5h-2Z M758.5 110.5h2V117.5h-2Z M763.5 110.5h2V112.5h-2Z M767.5 102.5h2V109.5h-2Z M772.5 78.5h2V101.5h-2Z M781.5 81.5h2V102.5h-2Z M785.5 77.5h2V81.5h-2Z M790.5 75.5h2V79.5h-2Z M817.5 140.5h2V143.5h-2Z M826.5 154.5h2V163.5h-2Z M830.5 150.5h2V155.5h-2Z M853.5 161.5h2V165.5h-2Z M862.5 170.5h2V173.5h-2Z M871.5 179.5h2V182.5h-2Z M880.5 189.5h2V190.5h-2Z M903.5 192.5h2V194.5h-2Z M907.5 182.5h2V192.5h-2Z M916.5 176.5h2V202.5h-2Z M943.5 226.5h2V230.5h-2Z M948.5 216.5h2V227.5h-2Z M952.5 210.5h2V216.5h-2Z M970.5 232.5h2V235.5h-2Z M980.5 216.5h2V235.5h-2Z M989.5 209.5h2V217.5h-2Z M1007.5 219.5h2V229.5h-2Z M1016.5 226.5h2V235.5h-2Z M1038.5 252.5h2V254.5h-2Z M1052.5 298.5h2V300.5h-2Z M1056.5 292.5h2V298.5h-2Z M1079.5 298.5h2V300.5h-2Z M1083.5 295.5h2V298.5h-2Z M1102.5 304.5h2V309.5h-2Z M1106.5 294.5h2V306.5h-2Z M1129.5 313.5h2V323.5h-2Z M1133.5 306.5h2V313.5h-2Z M1138.5 304.5h2V305.5h-2Z M1151.5 285.5h2V312.5h-2Z M1156.5 284.5h2V285.5h-2Z M1165.5 284.5h2V287.5h-2Z M1169.5 273.5h2V283.5h-2Z M1201.5 292.5h2V298.5h-2Z M1205.5 280.5h2V292.5h-2Z M1224.5 291.5h2V294.5h-2Z M1233.5 283.5h2V293.5h-2Z M1237.5 267.5h2V282.5h-2Z M1242.5 265.5h2V273.5h-2Z M1255.5 257.5h2V274.5h-2Z M1287.5 303.5h2V306.5h-2Z M1291.5 287.5h2V303.5h-2Z M1296.5 268.5h2V287.5h-2Z M1300.5 265.5h2V268.5h-2Z M1314.5 272.5h2V276.5h-2Z M1318.5 267.5h2V271.5h-2Z M1327.5 262.5h2V278.5h-2Z M1332.5 239.5h2V262.5h-2Z M1368.5 265.5h2V266.5h-2Z M1382.5 276.5h2V283.5h-2Z M1386.5 262.5h2V276.5h-2Z M1391.5 247.5h2V266.5h-2Z M1409.5 294.5h2V331.5h-2Z M1413.5 265.5h2V293.5h-2Z M1418.5 238.5h2V264.5h-2Z M1422.5 222.5h2V237.5h-2Z M1427.5 215.5h2V224.5h-2Z M1431.5 204.5h2V215.5h-2Z M1436.5 192.5h2V203.5h-2Z M1445.5 183.5h2V202.5h-2Z M1458.5 185.5h2V200.5h-2Z M1468.5 190.5h2V202.5h-2Z M1486.5 200.5h2V210.5h-2Z M1490.5 194.5h2V205.5h-2Z M1495.5 181.5h2V192.5h-2Z M1517.5 203.5h2V228.5h-2Z M1531.5 220.5h2V223.5h-2Z M1535.5 205.5h2V225.5h-2Z M1544.5 203.5h2V206.5h-2Z M1553.5 187.5h2V212.5h-2Z M1558.5 183.5h2V188.5h-2Z M1567.5 193.5h2V197.5h-2Z M1580.5 172.5h2V195.5h-2Z M1590.5 175.5h2V182.5h-2Z M1594.5 174.5h2V175.5h-2Z M1603.5 169.5h2V182.5h-2Z M1617.5 161.5h2V173.5h-2Z M1626.5 164.5h2V180.5h-2Z M1635.5 175.5h2V179.5h-2Z M1648.5 191.5h2V197.5h-2Z M1653.5 181.5h2V191.5h-2Z M1657.5 171.5h2V181.5h-2Z M1662.5 165.5h2V172.5h-2Z M1671.5 153.5h2V174.5h-2Z M1675.5 153.5h2V156.5h-2Z M1707.5 172.5h2V183.5h-2Z M1734.5 195.5h2V203.5h-2Z M1739.5 193.5h2V195.5h-2Z M1743.5 183.5h2V190.5h-2Z M1748.5 169.5h2V185.5h-2Z M1779.5 209.5h2V217.5h-2Z M1793.5 206.5h2V213.5h-2Z M1797.5 196.5h2V204.5h-2Z M1802.5 197.5h2V199.5h-2Z" fill="#fff" stroke="#2f2fff" stroke-width="1"/></g>
<polyline points="9.5,496.6 14.0,498.7 18.5,501.5 23.0,503.8 27.6,503.7 32.1,503.1 36.6,502.6 41.1,501.5 45.6,501.0 50.1,501.5 54.7,500.7 59.2,499.8 63.7,499.1 68.2,496.6 72.7,492.5 77.3,488.5 81.8,483.7 86.3,480.4 90.8,478.1 95.3,478.1 99.9,477.7 104.4,476.6 108.9,476.3 113.4,477.7 117.9,478.9 122.4,478.1 127.0,477.4 131.5,475.4 136.0,473.4 140.5,472.8 145.0,472.3 149.6,472.4 154.1,474.1 158.6,475.6 163.1,476.3 167.6,476.7 172.2,478.0 176.7,480.1 181.2,482.2 185.7,484.6 190.2,487.2 194.7,490.4 199.3,493.2 203.8,495.8 208.3,497.5 212.8,496.6 217.3,495.3 221.9,495.0 226.4,493.8 230.9,492.0 235.4,492.9 239.9,494.2 244.5,496.3 249.0,498.5 253.5,500.6 258.0,502.0 262.5,502.7 267.0,502.8 271.6,502.2 276.1,500.9 280.6,500.4 285.1,499.0 289.6,497.4 294.2,495.1 298.7,494.5 303.2,493.1 307.7,491.0 312.2,488.4 316.8,485.8 321.3,483.8 325.8,482.9 330.3,481.8 334.8,481.1 339.3,480.8 343.9,480.7 348.4,478.0 352.9,475.8 357.4,472.6 361.9,469.7 366.5,467.2 371.0,465.3 375.5,463.4 380.0,460.8 384.5,458.6 389.1,457.0 393.6,456.4 398.1,456.0 402.6,454.7 407.1,453.8 411.6,451.6 416.2,449.9 420.7,448.5 425.2,450.0 429.7,450.9 434.2,451.4 438.8,451.4 443.3,452.2 447.8,452.8 452.3,453.9 456.8,454.9 461.4,457.0 465.9,459.2 470.4,461.6 474.9,463.1 479.4,464.3 483.9,466.4 488.5,468.0 493.0,470.3 497.5,473.1 502.0,475.5 506.5,475.9 511.1,476.1 515.6,476.1 520.1,477.4 524.6,478.4 529.1,480.7 533.7,482.7 538.2,481.9 542.7,482.4 547.2,483.8 551.7,485.0 556.2,486.3 560.8,487.7 565.3,488.9 569.8,490.8 574.3,492.7 578.8,494.8 583.4,496.4 587.9,498.4 592.4,499.3 596.9,498.4 601.4,498.0 605.9,497.2 610.5,496.5 615.0,495.7 619.5,494.9 624.0,494.4 628.5,494.8 633.1,494.2 637.6,492.9 642.1,492.0 646.6,491.7 651.1,491.3 655.7,489.2 660.2,486.4 664.7,484.3 669.2,482.2 673.7,478.9 678.2,475.9 682.8,472.3 687.3,468.7 691.8,464.6 696.3,461.1 700.8,457.9 705.4,456.5 709.9,455.8 714.4,454.7 718.9,454.6 723.4,454.6 728.0,455.0 732.5,456.4 737.0,457.1 741.5,458.0 746.0,458.4 750.5,460.0 755.1,459.5 759.6,458.4 764.1,458.2 768.6,458.2 773.1,457.8 777.7,459.0 782.2,459.0 786.7,459.6 791.2,459.7 795.7,461.2 800.3,462.8 804.8,465.2 809.3,467.8 813.8,470.3 818.3,471.6 822.8,473.8 827.4,475.7 831.9,476.5 836.4,477.1 840.9,477.7 845.4,478.6 850.0,480.4 854.5,481.2 859.0,483.3 863.5,484.6 868.0,486.8 872.6,489.1 877.1,491.8 881.6,494.8 886.1,498.5 890.6,500.7 895.1,503.6 899.7,506.7 904.2,509.4 908.7,509.7 913.2,511.0 917.7,510.0 922.3,509.2 926.8,508.3 931.3,508.1 935.8,507.8 940.3,508.3 944.9,508.6 949.4,508.2 953.9,507.3 958.4,506.6 962.9,506.2 967.4,506.5 972.0,506.0 976.5,506.0 981.0,504.2 985.5,502.9 990.0,500.6 994.6,499.2 999.1,497.8 1003.6,496.8 1008.1,495.1 1012.6,494.2 1017.2,493.0 1021.7,493.9 1026.2,493.6 1030.7,495.3 1035.2,496.2 1039.7,496.6 1044.3,496.9 1048.8,497.7 1053.3,498.0 1057.8,498.4 1062.3,499.4 1066.9,500.7 1071.4,501.4 1075.9,502.2 1080.4,502.5 1084.9,502.8 1089.5,503.5 1094.0,505.5 1098.5,507.3 1103.0,508.8 1107.5,508.8 1112.0,508.8 1116.6,509.0 1121.1,510.0 1125.6,510.8 1130.1,511.5 1134.6,510.8 1139.2,509.7 1143.7,508.7 1148.2,508.2 1152.7,506.2 1157.2,503.9 1161.7,500.9 1166.3,497.9 1170.8,494.8 1175.3,492.2 1179.8,490.4 1184.3,488.6 1188.9,487.2 1193.4,486.0 1197.9,485.4 1202.4,483.3 1206.9,480.7 1211.5,478.3 1216.0,477.2 1220.5,477.5 1225.0,477.1 1229.5,476.6 1234.0,474.9 1238.6,471.8 1243.1,469.5 1247.6,468.8 1252.1,468.1 1256.6,466.5 1261.2,464.8 1265.7,465.2 1270.2,465.8 1274.7,466.7 1279.2,468.9 1283.8,471.9 1288.3,473.9 1292.8,474.2 1297.3,473.6 1301.8,472.2 1306.3,471.6 1310.9,470.8 1315.4,470.4 1319.9,470.6 1324.4,471.2 1328.9,470.5 1333.5,468.6 1338.0,467.2 1342.5,465.5 1347.0,465.9 1351.5,467.5 1356.1,469.2 1360.6,469.9 1365.1,470.6 1369.6,472.0 1374.1,473.3 1378.6,475.1 1383.2,476.2 1387.7,475.6 1392.2,473.2 1396.7,472.9 1401.2,473.5 1405.8,475.1 1410.3,476.1 1414.8,476.4 1419.3,475.6 1423.8,474.4 1428.4,473.3 1432.9,472.4 1437.4,470.5 1441.9,469.9 1446.4,469.7 1450.9,470.0 1455.5,470.4 1460.0,469.3 1464.5,468.3 1469.0,467.1 1473.5,466.6 1478.1,466.2 1482.6,466.3 1487.1,465.3 1491.6,463.4 1496.1,461.7 1500.7,462.1 1505.2,463.6 1509.7,462.6 1514.2,461.9 1518.7,460.0 1523.2,460.0 1527.8,461.1 1532.3,462.5 1536.8,463.5 1541.3,464.8 1545.8,466.1 1550.4,468.2 1554.9,468.6 1559.4,469.2 1563.9,470.3 1568.4,470.8 1573.0,471.7 1577.5,472.2 1582.0,472.0 1586.5,471.7 1591.0,471.2 1595.5,470.2 1600.1,470.1 1604.6,469.8 1609.1,469.9 1613.6,469.5 1618.1,468.0 1622.7,467.7 1627.2,466.1 1631.7,466.4 1636.2,466.0 1640.7,465.9 1645.3,466.3 1649.8,467.1 1654.3,467.2 1658.8,467.0 1663.3,466.0 1667.8,466.3 1672.4,466.1 1676.9,465.1 1681.4,464.6 1685.9,464.4 1690.4,464.4 1695.0,466.6 1699.5,468.0 1704.0,469.7 1708.5,470.4 1713.0,471.5 1717.5,473.5 1722.1,475.8 1726.6,477.6 1731.1,480.2 1735.6,480.8 1740.1,481.8 1744.7,481.4 1749.2,480.5 1753.7,479.6 1758.2,478.5 1762.7,478.7 1767.3,479.5 1771.8,481.7 1776.3,484.0 1780.8,485.5 1785.3,487.7 1789.8,490.0 1794.4,491.3 1798.9,491.5 1803.4,491.5" fill="none" stroke="#6e6e6e" stroke-width="2" stroke-opacity="0.85" stroke-linejoin="round" clip-path="url(#cr)"/>
<polyline points="9.5,513.6 14.0,512.0 18.5,510.7 23.0,508.8 27.6,503.8 32.1,499.1 36.6,494.1 41.1,487.8 45.6,484.1 50.1,483.7 54.7,481.2 59.2,479.3 63.7,478.8 68.2,477.1 72.7,474.3 77.3,472.8 81.8,467.1 86.3,461.4 90.8,460.3 95.3,460.1 99.9,462.9 104.4,468.1 108.9,470.4 113.4,470.5 117.9,472.4 122.4,472.0 127.0,470.4 131.5,470.1 136.0,470.7 140.5,473.2 145.0,475.4 149.6,479.9 154.1,484.1 158.6,487.9 163.1,488.8 167.6,486.7 172.2,488.3 176.7,490.1 181.2,491.0 185.7,494.7 190.2,500.3 194.7,506.5 199.3,511.4 203.8,516.0 208.3,519.0 212.8,516.9 217.3,512.4 221.9,508.5 226.4,502.9 230.9,498.7 235.4,497.3 239.9,494.2 244.5,493.7 249.0,494.2 253.5,495.0 258.0,492.6 262.5,491.5 267.0,489.9 271.6,488.6 276.1,489.1 280.6,490.0 285.1,489.5 289.6,491.1 294.2,491.4 298.7,491.8 303.2,491.2 307.7,487.5 312.2,481.7 316.8,476.1 321.3,472.7 325.8,468.8 330.3,463.2 334.8,461.4 339.3,460.5 343.9,458.6 348.4,455.5 352.9,451.6 357.4,450.0 361.9,445.8 366.5,444.8 371.0,444.5 375.5,445.9 380.0,445.1 384.5,443.3 389.1,442.8 393.6,445.9 398.1,446.8 402.6,445.8 407.1,444.7 411.6,446.5 416.2,447.4 420.7,448.4 425.2,452.8 429.7,454.6 434.2,455.9 438.8,455.1 443.3,457.2 447.8,461.2 452.3,465.3 456.8,465.2 461.4,466.3 465.9,469.6 470.4,474.4 474.9,477.5 479.4,481.9 483.9,488.4 488.5,488.2 493.0,489.8 497.5,492.6 502.0,496.8 506.5,496.8 511.1,494.4 515.6,489.6 520.1,488.6 524.6,486.7 529.1,487.6 533.7,487.3 538.2,485.7 542.7,486.2 547.2,485.6 551.7,484.4 556.2,483.9 560.8,484.0 565.3,485.2 569.8,489.8 574.3,496.1 578.8,504.3 583.4,509.4 587.9,514.9 592.4,514.8 596.9,513.4 601.4,514.1 605.9,511.7 610.5,509.3 615.0,507.9 619.5,503.4 624.0,497.2 628.5,491.6 633.1,484.8 637.6,476.0 642.1,471.1 646.6,467.8 651.1,461.7 655.7,456.7 660.2,453.5 664.7,450.1 669.2,448.6 673.7,444.4 678.2,442.5 682.8,441.8 687.3,442.2 691.8,440.9 696.3,441.0 700.8,444.0 705.4,444.9 709.9,444.5 714.4,445.2 718.9,449.4 723.4,455.2 728.0,461.1 732.5,465.7 737.0,469.1 741.5,472.5 746.0,474.5 750.5,477.1 755.1,479.0 759.6,479.2 764.1,478.1 768.6,473.7 773.1,468.8 777.7,469.2 782.2,465.7 786.7,461.0 791.2,456.1 795.7,454.0 800.3,455.6 804.8,457.0 809.3,461.6 813.8,465.7 818.3,470.1 822.8,476.6 827.4,481.5 831.9,486.7 836.4,493.7 840.9,496.9 845.4,502.6 850.0,508.5 854.5,512.9 859.0,515.9 863.5,517.0 868.0,518.0 872.6,517.1 877.1,516.8 881.6,516.9 886.1,516.1 890.6,517.0 895.1,518.5 899.7,520.0 904.2,519.5 908.7,514.8 913.2,514.0 917.7,510.8 922.3,508.1 926.8,506.8 931.3,505.4 935.8,506.0 940.3,506.1 944.9,505.5 949.4,503.1 953.9,499.6 958.4,497.8 962.9,495.9 967.4,496.8 972.0,500.0 976.5,499.7 981.0,499.9 985.5,498.6 990.0,495.8 994.6,493.8 999.1,491.2 1003.6,489.2 1008.1,486.3 1012.6,487.4 1017.2,487.6 1021.7,488.3 1026.2,488.8 1030.7,488.8 1035.2,489.9 1039.7,489.3 1044.3,493.2 1048.8,498.7 1053.3,504.9 1057.8,508.0 1062.3,510.7 1066.9,512.0 1071.4,515.5 1075.9,517.2 1080.4,520.1 1084.9,519.7 1089.5,521.0 1094.0,521.6 1098.5,522.1 1103.0,521.6 1107.5,517.5 1112.0,512.3 1116.6,509.3 1121.1,508.1 1125.6,508.4 1130.1,506.8 1134.6,503.6 1139.2,499.2 1143.7,496.1 1148.2,495.9 1152.7,489.4 1157.2,483.1 1161.7,477.7 1166.3,474.3 1170.8,472.1 1175.3,470.7 1179.8,469.2 1184.3,467.6 1188.9,465.8 1193.4,466.0 1197.9,468.4 1202.4,468.9 1206.9,466.8 1211.5,463.9 1216.0,466.7 1220.5,470.7 1225.0,472.7 1229.5,476.0 1234.0,478.0 1238.6,476.5 1243.1,473.2 1247.6,472.4 1252.1,469.7 1256.6,465.2 1261.2,461.5 1265.7,460.8 1270.2,462.4 1274.7,464.9 1279.2,468.2 1283.8,470.9 1288.3,473.4 1292.8,472.3 1297.3,471.8 1301.8,472.9 1306.3,475.8 1310.9,476.1 1315.4,476.0 1319.9,477.3 1324.4,479.2 1328.9,478.3 1333.5,475.5 1338.0,471.0 1342.5,464.6 1347.0,460.9 1351.5,459.5 1356.1,461.0 1360.6,464.2 1365.1,467.4 1369.6,468.3 1374.1,470.6 1378.6,475.1 1383.2,478.3 1387.7,476.5 1392.2,475.4 1396.7,481.7 1401.2,488.4 1405.8,495.1 1410.3,494.9 1414.8,492.0 1419.3,487.9 1423.8,483.5 1428.4,479.1 1432.9,474.9 1437.4,468.7 1441.9,462.5 1446.4,457.5 1450.9,456.7 1455.5,458.2 1460.0,452.9 1464.5,448.4 1469.0,443.2 1473.5,443.6 1478.1,445.6 1482.6,449.6 1487.1,452.3 1491.6,454.5 1496.1,455.7 1500.7,460.4 1505.2,464.6 1509.7,469.7 1514.2,474.8 1518.7,475.6 1523.2,478.7 1527.8,481.0 1532.3,483.6 1536.8,482.1 1541.3,481.2 1545.8,478.7 1550.4,480.1 1554.9,479.1 1559.4,479.1 1563.9,478.6 1568.4,476.2 1573.0,473.9 1577.5,470.7 1582.0,468.3 1586.5,466.8 1591.0,463.8 1595.5,460.9 1600.1,461.0 1604.6,459.5 1609.1,458.5 1613.6,457.1 1618.1,456.9 1622.7,460.3 1627.2,459.2 1631.7,460.6 1636.2,461.4 1640.7,463.0 1645.3,468.1 1649.8,470.2 1654.3,471.7 1658.8,472.1 1663.3,470.9 1667.8,471.5 1672.4,470.7 1676.9,468.3 1681.4,468.6 1685.9,467.0 1690.4,468.2 1695.0,470.7 1699.5,473.5 1704.0,474.8 1708.5,472.2 1713.0,472.2 1717.5,474.9 1722.1,479.8 1726.6,484.9 1731.1,489.9 1735.6,493.8 1740.1,497.2 1744.7,497.7 1749.2,495.3 1753.7,493.7 1758.2,489.9 1762.7,488.6 1767.3,488.1 1771.8,492.2 1776.3,494.7 1780.8,493.8 1785.3,492.6 1789.8,491.8 1794.4,488.3 1798.9,485.9 1803.4,484.1" fill="none" stroke="#2e8b6a" stroke-width="2" stroke-opacity="0.8" stroke-linejoin="round" clip-path="url(#cr)"/>
<polyline points="9.5,491.9 14.0,472.0 18.5,507.7 23.0,509.8 27.6,485.0 32.1,478.1 36.6,485.3 41.1,462.3 45.6,470.3 50.1,498.9 54.7,483.9 59.2,477.0 63.7,470.1 68.2,461.4 72.7,455.7 77.3,450.1 81.8,444.4 86.3,446.4 90.8,462.3 95.3,464.4 99.9,503.1 104.4,505.6 108.9,489.1 113.4,497.6 117.9,499.4 122.4,473.3 127.0,454.1 131.5,457.1 136.0,460.4 140.5,470.4 145.0,464.8 149.6,486.6 154.1,506.7 158.6,506.7 163.1,516.5 167.6,493.8 172.2,509.5 176.7,522.5 181.2,515.5 185.7,514.4 190.2,514.9 194.7,524.3 199.3,517.4 203.8,525.9 208.3,507.4 212.8,481.8 217.3,473.7 221.9,479.4 226.4,469.2 230.9,454.6 235.4,494.3 239.9,487.8 244.5,508.0 249.0,516.8 253.5,521.4 258.0,500.9 262.5,504.8 267.0,508.7 271.6,491.4 276.1,484.2 280.6,481.4 285.1,474.6 289.6,482.6 294.2,457.4 298.7,499.0 303.2,481.0 307.7,470.3 312.2,453.8 316.8,459.7 321.3,459.1 325.8,458.5 330.3,446.0 334.8,461.3 339.3,462.3 343.9,451.1 348.4,428.3 352.9,431.4 357.4,428.6 361.9,445.2 366.5,457.5 371.0,454.9 375.5,457.2 380.0,444.4 384.5,435.2 389.1,444.6 393.6,466.7 398.1,463.5 402.6,449.8 407.1,435.2 411.6,443.9 416.2,438.4 420.7,436.7 425.2,491.4 429.7,480.5 434.2,473.3 438.8,456.3 443.3,467.2 447.8,477.4 452.3,489.8 456.8,474.3 461.4,482.3 465.9,486.7 470.4,487.5 474.9,482.3 479.4,487.3 483.9,507.2 488.5,497.2 493.0,501.8 497.5,506.6 502.0,503.3 506.5,478.8 511.1,466.2 515.6,451.6 520.1,467.6 524.6,467.6 529.1,497.1 533.7,487.5 538.2,469.4 542.7,494.7 547.2,506.6 551.7,487.7 556.2,499.3 560.8,511.7 565.3,519.5 569.8,523.9 574.3,529.8 578.8,537.0 583.4,527.7 587.9,532.2 592.4,510.7 596.9,485.4 601.4,486.7 605.9,482.3 610.5,489.4 615.0,481.5 619.5,459.8 624.0,452.4 628.5,462.1 633.1,453.9 637.6,433.8 642.1,475.8 646.6,480.5 651.1,457.4 655.7,443.4 660.2,435.7 664.7,435.4 669.2,447.9 673.7,429.0 678.2,443.2 682.8,434.9 687.3,438.6 691.8,435.5 696.3,440.9 700.8,451.6 705.4,474.4 709.9,468.0 714.4,458.8 718.9,480.4 723.4,491.3 728.0,491.3 732.5,493.8 737.0,470.4 741.5,484.0 746.0,464.7 750.5,473.0 755.1,463.3 759.6,453.1 764.1,453.1 768.6,443.3 773.1,425.9 777.7,464.3 782.2,447.8 786.7,445.5 791.2,444.0 795.7,472.5 800.3,479.6 804.8,494.7 809.3,506.9 813.8,513.7 818.3,507.0 822.8,521.3 827.4,507.0 831.9,501.5 836.4,505.5 840.9,507.6 845.4,515.5 850.0,515.5 854.5,503.5 859.0,516.5 863.5,506.9 868.0,518.2 872.6,510.5 877.1,520.9 881.6,516.7 886.1,519.5 890.6,519.5 895.1,519.5 899.7,523.8 904.2,510.6 908.7,481.0 913.2,512.1 917.7,468.4 922.3,488.3 926.8,490.4 931.3,502.1 935.8,513.6 940.3,519.7 944.9,509.8 949.4,494.6 953.9,485.5 958.4,498.7 962.9,503.7 967.4,511.4 972.0,503.5 976.5,506.7 981.0,474.0 985.5,477.7 990.0,464.9 994.6,480.5 999.1,484.9 1003.6,495.1 1008.1,476.9 1012.6,499.8 1017.2,481.8 1021.7,502.5 1026.2,506.1 1030.7,509.8 1035.2,511.1 1039.7,500.2 1044.3,509.4 1048.8,533.5 1053.3,529.1 1057.8,518.4 1062.3,519.4 1066.9,517.3 1071.4,518.1 1075.9,523.9 1080.4,518.3 1084.9,509.6 1089.5,525.5 1094.0,522.7 1098.5,523.7 1103.0,503.5 1107.5,479.4 1112.0,485.2 1116.6,499.0 1121.1,503.6 1125.6,519.4 1130.1,499.2 1134.6,484.4 1139.2,479.3 1143.7,483.3 1148.2,498.4 1152.7,451.7 1157.2,451.2 1161.7,459.1 1166.3,453.9 1170.8,441.2 1175.3,454.8 1179.8,470.5 1184.3,474.3 1188.9,489.2 1193.4,487.0 1197.9,494.9 1202.4,474.8 1206.9,455.5 1211.5,464.1 1216.0,475.5 1220.5,486.7 1225.0,477.1 1229.5,485.1 1234.0,462.1 1238.6,442.5 1243.1,440.5 1247.6,467.0 1252.1,463.3 1256.6,442.1 1261.2,457.1 1265.7,461.8 1270.2,464.8 1274.7,482.7 1279.2,507.9 1283.8,516.3 1288.3,504.6 1292.8,479.3 1297.3,457.9 1301.8,455.6 1306.3,470.9 1310.9,473.8 1315.4,466.4 1319.9,459.9 1324.4,479.0 1328.9,457.8 1333.5,439.5 1338.0,441.2 1342.5,443.0 1347.0,472.4 1351.5,483.1 1356.1,483.7 1360.6,482.6 1365.1,481.0 1369.6,476.9 1374.1,491.2 1378.6,507.1 1383.2,491.0 1387.7,466.7 1392.2,448.8 1396.7,509.6 1401.2,518.1 1405.8,519.8 1410.3,482.7 1414.8,463.6 1419.3,450.0 1423.8,443.6 1428.4,440.7 1432.9,436.1 1437.4,431.6 1441.9,444.1 1446.4,435.0 1450.9,447.3 1455.5,454.0 1460.0,444.9 1464.5,457.6 1469.0,453.0 1473.5,470.9 1478.1,470.4 1482.6,479.5 1487.1,465.7 1491.6,460.0 1496.1,448.7 1500.7,475.6 1505.2,486.4 1509.7,486.4 1514.2,501.3 1518.7,471.5 1523.2,483.2 1527.8,489.0 1532.3,486.6 1536.8,469.1 1541.3,472.2 1545.8,467.5 1550.4,483.9 1554.9,454.7 1559.4,451.6 1563.9,473.5 1568.4,466.1 1573.0,467.4 1577.5,471.0 1582.0,446.5 1586.5,465.6 1591.0,456.2 1595.5,454.9 1600.1,463.3 1604.6,453.0 1609.1,451.9 1613.6,464.9 1618.1,449.0 1622.7,479.2 1627.2,460.8 1631.7,478.7 1636.2,473.8 1640.7,486.1 1645.3,495.8 1649.8,488.6 1654.3,475.5 1658.8,463.5 1663.3,457.7 1667.8,462.7 1672.4,446.7 1676.9,447.6 1681.4,453.8 1685.9,464.0 1690.4,470.1 1695.0,501.9 1699.5,500.0 1704.0,497.8 1708.5,474.7 1713.0,489.5 1717.5,502.5 1722.1,511.2 1726.6,508.9 1731.1,514.8 1735.6,492.1 1740.1,487.9 1744.7,468.7 1749.2,450.2 1753.7,462.9 1758.2,470.3 1762.7,491.7 1767.3,496.9 1771.8,516.8 1776.3,517.0 1780.8,498.4 1785.3,503.1 1789.8,504.9 1794.4,485.4 1798.9,469.3 1803.4,470.7" fill="none" stroke="#ff40ff" stroke-width="1.1" stroke-opacity="0.75" stroke-linejoin="round" clip-path="url(#cr)"/>
<polyline points="9.5,482.3 14.0,457.6 18.5,509.3 23.0,512.0 27.6,478.4 32.1,469.4 36.6,480.9 41.1,450.6 45.6,463.4 50.1,504.4 54.7,482.9 59.2,473.1 63.7,463.3 68.2,451.3 72.7,443.7 77.3,436.3 81.8,429.2 86.3,433.0 90.8,462.8 95.3,466.6 99.9,520.6 104.4,523.3 108.9,494.7 113.4,506.7 117.9,509.2 122.4,466.8 127.0,441.7 131.5,446.8 136.0,452.6 140.5,470.1 145.0,460.8 149.6,495.7 154.1,521.0 158.6,521.0 163.1,532.2 167.6,494.9 172.2,516.6 176.7,532.0 181.2,521.3 185.7,519.4 190.2,520.2 194.7,533.3 199.3,521.4 203.8,533.5 208.3,503.3 212.8,467.1 217.3,456.8 221.9,467.4 226.4,453.5 230.9,435.6 235.4,497.6 239.9,488.2 244.5,515.2 249.0,525.7 253.5,531.0 258.0,499.9 262.5,505.8 267.0,511.7 271.6,484.6 276.1,474.1 280.6,469.9 285.1,459.7 289.6,475.7 294.2,440.3 298.7,503.8 303.2,478.7 307.7,464.3 312.2,443.7 316.8,452.8 321.3,452.0 325.8,451.1 330.3,433.5 334.8,460.0 339.3,461.6 343.9,443.6 348.4,416.0 352.9,421.0 357.4,417.8 361.9,445.4 366.5,464.5 371.0,459.8 375.5,463.8 380.0,440.8 384.5,427.4 389.1,443.5 393.6,477.8 398.1,471.9 402.6,448.4 407.1,427.7 411.6,441.6 416.2,433.5 420.7,431.1 425.2,507.1 429.7,489.7 434.2,478.3 438.8,453.1 443.3,469.3 447.8,484.0 452.3,500.9 456.8,475.8 461.4,487.6 465.9,494.2 470.4,495.4 474.9,485.4 479.4,494.1 483.9,522.8 488.5,504.4 493.0,511.3 497.5,518.2 502.0,511.7 506.5,469.1 511.1,451.4 515.6,433.4 520.1,461.3 524.6,461.3 529.1,506.4 533.7,490.9 538.2,463.9 542.7,500.3 547.2,515.3 551.7,487.4 556.2,503.5 560.8,519.5 565.3,528.7 569.8,533.8 574.3,540.3 578.8,547.4 583.4,532.7 587.9,538.5 592.4,505.4 596.9,471.0 601.4,473.4 605.9,467.2 610.5,481.0 615.0,468.8 619.5,440.3 624.0,432.0 628.5,450.1 633.1,439.2 637.6,417.3 642.1,479.1 646.6,485.3 651.1,453.0 655.7,435.6 660.2,426.7 664.7,426.3 669.2,446.4 673.7,421.4 678.2,442.4 682.8,430.9 687.3,436.7 691.8,432.0 696.3,441.0 700.8,459.0 705.4,492.1 709.9,479.8 714.4,462.9 718.9,494.3 723.4,508.0 728.0,508.0 732.5,511.4 737.0,468.5 741.5,490.0 746.0,459.8 750.5,472.9 755.1,458.2 759.6,443.7 764.1,443.7 768.6,430.3 773.1,411.7 777.7,467.9 782.2,445.2 786.7,442.1 791.2,440.1 795.7,481.8 800.3,491.2 804.8,510.0 809.3,523.6 813.8,530.7 818.3,519.0 822.8,535.2 827.4,512.1 831.9,503.3 836.4,509.6 840.9,512.9 845.4,524.6 850.0,524.6 854.5,501.8 859.0,523.4 863.5,506.7 868.0,524.2 872.6,511.3 877.1,527.0 881.6,519.8 886.1,524.2 890.6,524.2 895.1,524.2 899.7,531.7 904.2,505.3 908.7,458.9 913.2,513.1 917.7,457.1 922.3,485.5 926.8,488.4 931.3,505.1 935.8,520.0 940.3,527.6 944.9,512.2 949.4,489.3 953.9,476.1 958.4,498.1 962.9,505.8 967.4,517.3 972.0,504.0 976.5,509.4 981.0,460.0 985.5,466.6 990.0,449.3 994.6,476.7 999.1,483.9 1003.6,500.2 1008.1,471.2 1012.6,505.6 1017.2,478.9 1021.7,507.8 1026.2,512.5 1030.7,517.4 1035.2,519.2 1039.7,500.3 1044.3,515.0 1048.8,543.4 1053.3,536.9 1057.8,520.3 1062.3,521.8 1066.9,518.2 1071.4,519.7 1075.9,529.4 1080.4,518.8 1084.9,502.7 1089.5,530.5 1094.0,525.6 1098.5,527.2 1103.0,492.3 1107.5,458.5 1112.0,470.1 1116.6,495.5 1121.1,503.3 1125.6,526.5 1130.1,495.5 1134.6,474.7 1139.2,467.7 1143.7,475.0 1148.2,500.5 1152.7,438.8 1157.2,438.2 1161.7,451.2 1166.3,444.1 1170.8,428.3 1175.3,450.6 1179.8,474.8 1184.3,480.5 1188.9,501.7 1193.4,497.7 1197.9,508.9 1202.4,473.6 1206.9,445.9 1211.5,460.0 1216.0,478.1 1220.5,494.7 1225.0,478.7 1229.5,491.1 1234.0,455.2 1238.6,430.8 1243.1,428.5 1247.6,469.4 1252.1,463.8 1256.6,434.5 1261.2,456.9 1265.7,463.9 1270.2,468.5 1274.7,494.7 1279.2,524.4 1283.8,532.7 1288.3,513.7 1292.8,475.8 1297.3,448.1 1301.8,445.2 1306.3,469.5 1310.9,473.9 1315.4,462.3 1319.9,452.4 1324.4,483.8 1328.9,451.6 1333.5,429.0 1338.0,431.6 1342.5,434.8 1347.0,480.5 1351.5,494.9 1356.1,495.8 1360.6,493.5 1365.1,490.4 1369.6,481.8 1374.1,505.5 1378.6,526.0 1383.2,496.6 1387.7,459.2 1392.2,436.7 1396.7,516.8 1401.2,525.9 1405.8,527.8 1410.3,477.5 1414.8,454.4 1419.3,438.8 1423.8,431.8 1428.4,428.6 1432.9,423.3 1437.4,418.4 1441.9,439.6 1446.4,427.0 1450.9,447.2 1455.5,457.9 1460.0,442.6 1464.5,463.3 1469.0,455.0 1473.5,482.9 1478.1,481.9 1482.6,495.6 1487.1,469.0 1491.6,458.9 1496.1,441.0 1500.7,483.8 1505.2,498.4 1509.7,498.4 1514.2,517.9 1518.7,469.4 1523.2,486.7 1527.8,495.0 1532.3,490.9 1536.8,462.9 1541.3,468.3 1545.8,460.7 1550.4,488.9 1554.9,445.4 1559.4,441.3 1563.9,476.0 1568.4,464.5 1573.0,466.7 1577.5,472.9 1582.0,436.0 1586.5,466.3 1591.0,452.3 1595.5,450.3 1600.1,464.6 1604.6,447.8 1609.1,446.2 1613.6,469.0 1618.1,443.0 1622.7,488.4 1627.2,460.1 1631.7,485.2 1636.2,477.5 1640.7,494.8 1645.3,507.7 1649.8,495.3 1654.3,473.7 1658.8,455.9 1663.3,447.7 1667.8,456.7 1672.4,434.2 1676.9,435.9 1681.4,447.6 1685.9,466.1 1690.4,476.6 1695.0,520.2 1699.5,516.6 1704.0,512.4 1708.5,471.7 1713.0,494.8 1717.5,512.6 1722.1,523.4 1726.6,519.5 1731.1,527.2 1735.6,489.0 1740.1,482.5 1744.7,454.8 1749.2,432.8 1753.7,454.2 1758.2,466.5 1762.7,498.6 1767.3,505.5 1771.8,529.4 1776.3,529.7 1780.8,499.4 1785.3,506.6 1789.8,509.4 1794.4,477.7 1798.9,455.1 1803.4,457.7" fill="none" stroke="#6060ff" stroke-width="1.1" stroke-opacity="0.75" stroke-linejoin="round" clip-path="url(#cr)"/>
<polyline points="9.5,644.0 14.0,643.7 18.5,660.4 23.0,677.2 27.6,695.9 32.1,693.9 36.6,682.7 41.1,660.5 45.6,645.1 50.1,643.2 54.7,656.8 59.2,676.3 63.7,677.8 68.2,661.1 72.7,636.2 77.3,620.2 81.8,615.4 86.3,615.6 90.8,623.9 95.3,640.2 99.9,667.2 104.4,694.5 108.9,711.8 113.4,716.6 117.9,713.9 122.4,702.9 127.0,679.6 131.5,648.5 136.0,628.5 140.5,629.2 145.0,643.8 149.6,666.3 154.1,690.4 158.6,715.2 163.1,727.9 167.6,725.9 172.2,716.1 176.7,710.0 181.2,713.6 185.7,718.9 190.2,720.1 194.7,717.2 199.3,711.9 203.8,709.3 208.3,702.0 212.8,686.6 217.3,660.3 221.9,634.9 226.4,622.3 230.9,619.5 235.4,629.9 239.9,648.3 244.5,681.5 249.0,707.7 253.5,726.9 258.0,726.4 262.5,719.1 267.0,703.7 271.6,687.0 276.1,666.4 280.6,643.0 285.1,626.2 289.6,621.4 294.2,622.8 298.7,637.6 303.2,651.3 307.7,669.9 312.2,662.6 316.8,649.1 321.3,632.3 325.8,630.5 330.3,630.0 334.8,633.0 339.3,636.5 343.9,642.7 348.4,637.2 352.9,622.8 357.4,608.1 361.9,605.0 366.5,613.0 371.0,634.2 375.5,662.3 380.0,685.2 384.5,683.0 389.1,662.0 393.6,646.5 398.1,653.7 402.6,668.8 407.1,667.2 411.6,647.3 416.2,623.3 420.7,612.3 425.2,622.2 429.7,648.2 434.2,680.2 438.8,687.5 443.3,678.4 447.8,661.9 452.3,667.3 456.8,679.9 461.4,693.1 465.9,692.6 470.4,689.6 474.9,681.8 479.4,677.2 483.9,679.7 488.5,691.0 493.0,703.6 497.5,707.2 502.0,705.2 506.5,695.3 511.1,675.7 515.6,646.3 520.1,623.8 524.6,618.5 529.1,637.4 533.7,663.1 538.2,684.1 542.7,692.0 547.2,696.6 551.7,703.7 556.2,710.5 560.8,714.4 565.3,721.0 569.8,727.8 574.3,732.5 578.8,731.7 583.4,729.4 587.9,728.1 592.4,719.6 596.9,699.6 601.4,670.0 605.9,642.1 610.5,630.4 615.0,628.0 619.5,629.9 624.0,623.9 628.5,618.0 633.1,612.7 637.6,611.0 642.1,620.5 646.6,642.6 651.1,670.0 655.7,673.1 660.2,649.1 664.7,617.6 669.2,603.0 673.7,602.8 678.2,608.6 682.8,608.2 687.3,609.7 691.8,608.0 696.3,616.2 700.8,631.7 705.4,660.2 709.9,686.8 714.4,701.4 718.9,700.5 723.4,695.8 728.0,700.1 732.5,707.2 737.0,707.3 741.5,695.2 746.0,670.3 750.5,647.7 755.1,630.5 759.6,630.9 764.1,634.9 768.6,635.0 773.1,626.1 777.7,621.1 782.2,620.6 786.7,627.5 791.2,625.6 795.7,634.2 800.3,653.0 804.8,688.6 809.3,716.3 813.8,731.1 818.3,731.3 822.8,728.9 827.4,723.1 831.9,714.6 836.4,699.6 840.9,686.6 845.4,683.6 850.0,691.5 854.5,699.4 859.0,704.8 863.5,703.6 868.0,709.0 872.6,708.5 877.1,715.0 881.6,714.4 886.1,718.6 890.6,714.1 895.1,708.6 899.7,699.0 904.2,690.1 908.7,677.0 913.2,669.0 917.7,656.3 922.3,657.5 926.8,653.5 931.3,669.9 935.8,686.9 940.3,712.6 944.9,724.3 949.4,721.9 953.9,702.6 958.4,680.0 962.9,667.1 967.4,674.6 972.0,689.8 976.5,701.7 981.0,691.8 985.5,669.8 990.0,638.1 994.6,622.7 999.1,622.3 1003.6,643.7 1008.1,663.1 1012.6,683.5 1017.2,686.0 1021.7,695.0 1026.2,695.1 1030.7,710.4 1035.2,717.1 1039.7,724.4 1044.3,723.2 1048.8,722.8 1053.3,725.9 1057.8,725.1 1062.3,720.8 1066.9,712.0 1071.4,700.8 1075.9,693.1 1080.4,686.6 1084.9,686.7 1089.5,688.7 1094.0,696.5 1098.5,712.0 1103.0,720.4 1107.5,715.8 1112.0,695.8 1116.6,682.3 1121.1,683.2 1125.6,696.7 1130.1,706.8 1134.6,704.0 1139.2,685.8 1143.7,663.8 1148.2,653.8 1152.7,649.1 1157.2,645.1 1161.7,629.2 1166.3,617.7 1170.8,610.6 1175.3,612.5 1179.8,624.5 1184.3,646.8 1188.9,677.5 1193.4,699.5 1197.9,706.7 1202.4,691.8 1206.9,661.7 1211.5,631.8 1216.0,614.6 1220.5,618.3 1225.0,635.0 1229.5,656.6 1234.0,664.2 1238.6,653.6 1243.1,629.6 1247.6,615.6 1252.1,616.1 1256.6,623.8 1261.2,628.0 1265.7,628.8 1270.2,637.7 1274.7,656.1 1279.2,682.0 1283.8,707.9 1288.3,722.2 1292.8,718.5 1297.3,692.1 1301.8,656.7 1306.3,628.3 1310.9,621.6 1315.4,630.0 1319.9,640.6 1324.4,651.5 1328.9,654.0 1333.5,650.6 1338.0,629.5 1342.5,613.2 1347.0,610.8 1351.5,633.4 1356.1,667.9 1360.6,699.0 1365.1,714.1 1369.6,711.2 1374.1,705.1 1378.6,699.8 1383.2,700.5 1387.7,688.5 1392.2,670.1 1396.7,656.5 1401.2,664.7 1405.8,691.7 1410.3,708.8 1414.8,703.6 1419.3,672.3 1423.8,637.0 1428.4,611.2 1432.9,600.0 1437.4,597.4 1441.9,599.3 1446.4,603.2 1450.9,614.5 1455.5,630.0 1460.0,646.9 1464.5,659.1 1469.0,662.1 1473.5,673.4 1478.1,683.4 1482.6,702.7 1487.1,701.9 1491.6,693.2 1496.1,663.6 1500.7,646.4 1505.2,647.3 1509.7,674.6 1514.2,703.8 1518.7,713.4 1523.2,708.1 1527.8,694.0 1532.3,691.7 1536.8,686.9 1541.3,679.4 1545.8,660.8 1550.4,653.3 1554.9,645.3 1559.4,643.5 1563.9,635.3 1568.4,641.2 1573.0,652.5 1577.5,665.1 1582.0,663.4 1586.5,657.2 1591.0,642.3 1595.5,639.7 1600.1,638.1 1604.6,647.1 1609.1,650.5 1613.6,655.5 1618.1,651.4 1622.7,656.4 1627.2,652.6 1631.7,668.7 1636.2,672.4 1640.7,690.1 1645.3,696.7 1649.8,704.5 1654.3,697.1 1658.8,671.0 1663.3,639.6 1667.8,613.5 1672.4,603.7 1676.9,603.4 1681.4,609.1 1685.9,623.3 1690.4,642.2 1695.0,668.0 1699.5,691.5 1704.0,711.1 1708.5,711.2 1713.0,701.3 1717.5,691.2 1722.1,698.6 1726.6,711.1 1731.1,718.1 1735.6,708.6 1740.1,691.8 1744.7,664.5 1749.2,637.5 1753.7,614.5 1758.2,610.9 1762.7,627.5 1767.3,656.8 1771.8,689.9 1776.3,714.4 1780.8,724.3 1785.3,717.5 1789.8,700.8 1794.4,679.4 1798.9,656.2 1803.4,631.8" fill="none" stroke="#ff40ff" stroke-width="1.1" stroke-opacity="0.8" stroke-linejoin="round" clip-path="url(#cs)"/>
<polyline points="9.5,644.0 14.0,646.3 18.5,684.7 23.0,695.9 27.6,707.1 32.1,680.1 36.6,660.6 41.1,640.7 45.6,633.9 50.1,655.1 54.7,681.3 59.2,692.6 63.7,659.6 68.2,631.1 72.7,617.7 77.3,611.7 81.8,616.8 86.3,618.2 90.8,636.8 95.3,665.4 99.9,699.3 104.4,718.6 108.9,717.6 113.4,713.7 117.9,710.4 122.4,684.7 127.0,643.7 131.5,617.1 136.0,624.6 140.5,646.0 145.0,660.9 149.6,691.9 154.1,718.2 158.6,735.4 163.1,730.2 167.6,712.0 172.2,706.2 176.7,711.7 181.2,723.0 185.7,722.1 190.2,715.1 194.7,714.2 199.3,706.4 203.8,707.1 208.3,692.5 212.8,660.3 217.3,628.1 221.9,616.4 226.4,622.5 230.9,619.6 235.4,647.5 239.9,677.7 244.5,719.4 249.0,725.9 253.5,735.3 258.0,717.8 262.5,704.1 267.0,689.1 271.6,667.9 276.1,642.1 280.6,618.8 285.1,617.7 289.6,627.8 294.2,622.9 298.7,662.1 303.2,668.8 307.7,678.6 312.2,640.4 316.8,628.1 321.3,628.4 325.8,635.1 330.3,626.6 334.8,637.2 339.3,645.7 343.9,645.0 348.4,620.9 352.9,602.6 357.4,600.7 361.9,611.6 366.5,626.8 371.0,664.3 375.5,696.0 380.0,695.3 384.5,657.8 389.1,632.9 393.6,648.7 398.1,679.6 402.6,678.1 407.1,643.9 411.6,619.9 416.2,606.2 420.7,610.7 425.2,649.6 429.7,684.2 434.2,706.6 438.8,671.7 443.3,656.8 447.8,657.2 452.3,687.9 456.8,694.6 461.4,696.9 465.9,686.4 470.4,685.5 474.9,673.4 479.4,672.7 483.9,693.0 488.5,707.3 493.0,710.6 497.5,703.7 502.0,701.3 506.5,680.9 511.1,644.8 515.6,613.3 520.1,613.4 524.6,628.7 529.1,670.2 533.7,690.3 538.2,691.9 542.7,693.8 547.2,704.2 551.7,713.1 556.2,714.2 560.8,716.1 565.3,732.9 569.8,734.3 574.3,730.2 578.8,730.6 583.4,727.3 587.9,726.2 592.4,705.3 596.9,667.2 601.4,637.5 605.9,621.6 610.5,632.3 615.0,630.1 619.5,627.2 624.0,614.3 628.5,612.4 633.1,611.5 637.6,609.0 642.1,640.9 646.6,678.0 651.1,691.0 655.7,650.3 660.2,606.1 664.7,596.5 669.2,606.4 673.7,605.7 678.2,613.8 682.8,605.1 687.3,610.3 691.8,608.7 696.3,629.6 700.8,656.7 705.4,694.4 709.9,709.3 714.4,700.5 718.9,691.7 723.4,695.3 728.0,713.4 732.5,713.0 737.0,695.4 741.5,677.3 746.0,638.1 750.5,627.8 755.1,625.7 759.6,639.3 764.1,639.6 768.6,626.2 773.1,612.4 777.7,624.8 782.2,624.6 786.7,633.1 791.2,619.1 795.7,650.4 800.3,689.3 804.8,726.0 809.3,733.7 813.8,733.6 818.3,726.5 822.8,726.7 827.4,716.2 831.9,700.9 836.4,681.7 840.9,677.3 845.4,691.9 850.0,705.2 854.5,701.0 859.0,708.4 863.5,701.5 868.0,717.3 872.6,706.7 877.1,721.1 881.6,715.6 886.1,719.0 890.6,707.8 895.1,699.0 899.7,690.1 904.2,681.3 908.7,659.5 913.2,666.1 917.7,643.3 922.3,663.0 926.8,654.2 931.3,692.6 935.8,713.9 940.3,731.3 944.9,727.6 949.4,706.7 953.9,673.5 958.4,659.8 962.9,668.0 967.4,696.1 972.0,705.4 976.5,703.6 981.0,666.5 985.5,639.2 990.0,608.7 994.6,620.3 999.1,637.8 1003.6,672.9 1008.1,678.5 1012.6,699.2 1017.2,680.3 1021.7,705.4 1026.2,699.6 1030.7,726.3 1035.2,725.5 1039.7,721.3 1044.3,722.8 1048.8,724.4 1053.3,730.6 1057.8,720.4 1062.3,711.3 1066.9,704.4 1071.4,686.8 1075.9,688.3 1080.4,684.7 1084.9,687.0 1089.5,694.4 1094.0,708.0 1098.5,733.6 1103.0,719.5 1107.5,694.3 1112.0,673.5 1116.6,679.2 1121.1,696.8 1125.6,714.2 1130.1,709.6 1134.6,688.2 1139.2,659.7 1143.7,643.6 1148.2,658.0 1152.7,645.7 1157.2,631.6 1161.7,610.1 1166.3,611.2 1170.8,610.6 1175.3,615.6 1179.8,647.4 1184.3,677.4 1188.9,707.6 1193.4,713.6 1197.9,699.0 1202.4,663.0 1206.9,623.0 1211.5,609.4 1216.0,611.4 1220.5,634.1 1225.0,659.6 1229.5,676.1 1234.0,656.9 1238.6,628.0 1243.1,604.0 1247.6,614.9 1252.1,629.3 1256.6,627.3 1261.2,627.3 1265.7,631.6 1270.2,654.1 1274.7,682.5 1279.2,709.6 1283.8,731.6 1288.3,725.4 1292.8,698.7 1297.3,652.3 1301.8,619.0 1306.3,613.6 1310.9,632.3 1315.4,644.1 1319.9,645.3 1324.4,665.0 1328.9,651.6 1333.5,635.3 1338.0,601.7 1342.5,602.7 1347.0,627.9 1351.5,669.5 1356.1,706.4 1360.6,721.0 1365.1,714.9 1369.6,697.8 1374.1,702.6 1378.6,698.9 1383.2,699.8 1387.7,666.7 1392.2,643.6 1396.7,659.2 1401.2,691.2 1405.8,724.6 1410.3,710.4 1414.8,675.8 1419.3,630.8 1423.8,604.4 1428.4,598.4 1432.9,597.3 1437.4,596.6 1441.9,604.1 1446.4,609.0 1450.9,630.5 1455.5,650.5 1460.0,659.6 1464.5,667.1 1469.0,659.6 1473.5,693.5 1478.1,697.2 1482.6,717.5 1487.1,690.9 1491.6,671.3 1496.1,628.8 1500.7,639.3 1505.2,674.0 1509.7,710.5 1514.2,727.0 1518.7,702.7 1523.2,694.8 1527.8,684.4 1532.3,695.9 1536.8,680.4 1541.3,661.8 1545.8,640.2 1550.4,657.9 1554.9,637.8 1559.4,634.8 1563.9,633.2 1568.4,655.8 1573.0,668.4 1577.5,671.0 1582.0,650.6 1586.5,649.9 1591.0,626.5 1595.5,642.7 1600.1,645.1 1604.6,653.7 1609.1,652.7 1613.6,660.1 1618.1,641.3 1622.7,667.9 1627.2,648.7 1631.7,689.6 1636.2,678.9 1640.7,701.9 1645.3,709.4 1649.8,702.4 1654.3,679.7 1658.8,630.8 1663.3,608.4 1667.8,601.2 1672.4,601.3 1676.9,607.7 1681.4,618.2 1685.9,643.9 1690.4,664.5 1695.0,695.8 1699.5,714.2 1704.0,723.4 1708.5,696.1 1713.0,684.4 1717.5,693.0 1722.1,718.4 1726.6,722.1 1731.1,713.8 1735.6,689.8 1740.1,671.8 1744.7,631.9 1749.2,608.9 1753.7,602.6 1758.2,621.2 1762.7,658.6 1767.3,690.5 1771.8,720.6 1776.3,732.1 1780.8,720.1 1785.3,700.4 1789.8,681.8 1794.4,655.9 1798.9,631.0 1803.4,608.5" fill="none" stroke="#6060ff" stroke-width="1.1" stroke-opacity="0.75" stroke-linejoin="round" clip-path="url(#cs)"/>
<line x1="10" y1="382.5" x2="1906" y2="382.5" stroke="#1a1a1a" stroke-width="1.3"/>
<line x1="10" y1="568.5" x2="1906" y2="568.5" stroke="#1a1a1a" stroke-width="1.3"/>
<line x1="10" y1="751.5" x2="1906" y2="751.5" stroke="#1a1a1a" stroke-width="1.3"/>
<line x1="1855.1" y1="10" x2="1855.1" y2="773" stroke="#404040" stroke-width="1.6"/>
<text x="1860" y="61.5" font-size="8.2" fill="#555" textLength="23.5" lengthAdjust="spacingAndGlyphs">0.6400</text>
<text x="1860" y="93.1" font-size="8.2" fill="#555" textLength="23.5" lengthAdjust="spacingAndGlyphs">0.6300</text>
<text x="1860" y="124.3" font-size="8.2" fill="#555" textLength="23.5" lengthAdjust="spacingAndGlyphs">0.6200</text>
<text x="1860" y="155.5" font-size="8.2" fill="#555" textLength="23.5" lengthAdjust="spacingAndGlyphs">0.6100</text>
<text x="1860" y="186.1" font-size="8.2" fill="#555" textLength="23.5" lengthAdjust="spacingAndGlyphs">0.6000</text>
<text x="1860" y="217.1" font-size="8.2" fill="#555" textLength="23.5" lengthAdjust="spacingAndGlyphs">0.5900</text>
<text x="1860" y="248.8" font-size="8.2" fill="#555" textLength="23.5" lengthAdjust="spacingAndGlyphs">0.5800</text>
<text x="1860" y="279.3" font-size="8.2" fill="#555" textLength="23.5" lengthAdjust="spacingAndGlyphs">0.5700</text>
<text x="1860" y="311.4" font-size="8.2" fill="#555" textLength="23.5" lengthAdjust="spacingAndGlyphs">0.5600</text>
<text x="1860" y="341.7" font-size="8.2" fill="#555" textLength="23.5" lengthAdjust="spacingAndGlyphs">0.5500</text>
<text x="1860" y="372.2" font-size="8.2" fill="#555" textLength="23.5" lengthAdjust="spacingAndGlyphs">0.5400</text>
<text x="1860" y="391.6" font-size="8.2" fill="#555" textLength="31" lengthAdjust="spacingAndGlyphs">100.0000</text>
<text x="1860" y="427" font-size="8.2" fill="#555" textLength="31" lengthAdjust="spacingAndGlyphs">80.0000</text>
<text x="1860" y="532.9" font-size="8.2" fill="#555" textLength="31" lengthAdjust="spacingAndGlyphs">20.0000</text>
<text x="1860" y="592.2" font-size="8.2" fill="#555" textLength="27" lengthAdjust="spacingAndGlyphs">100.000</text>
<text x="1860" y="621.8" font-size="8.2" fill="#555" textLength="27" lengthAdjust="spacingAndGlyphs">80.000</text>
<text x="1860" y="652.2" font-size="8.2" fill="#555" textLength="27" lengthAdjust="spacingAndGlyphs">60.000</text>
<text x="1860" y="682" font-size="8.2" fill="#555" textLength="27" lengthAdjust="spacingAndGlyphs">40.000</text>
<text x="1860" y="711.9" font-size="8.2" fill="#555" textLength="27" lengthAdjust="spacingAndGlyphs">20.000</text>
<text x="1860" y="741" font-size="8.2" fill="#555" textLength="19" lengthAdjust="spacingAndGlyphs">0.000</text>
<rect x="1858.5" y="14.5" width="43" height="25" rx="4" fill="#fff" stroke="#f0f0f0"/>
<text x="1867.7" y="31.8" font-size="12" fill="#444" textLength="20.2" lengthAdjust="spacingAndGlyphs">USD</text>
<rect x="1855.7" y="169.3" width="31" height="10.3" rx="1.5" fill="#1ac6c6"/>
<text x="1860.2" y="177.3" font-size="8" font-weight="bold" fill="#123838" textLength="23.5" lengthAdjust="spacingAndGlyphs">0.6000</text>
<rect x="1855.7" y="181.3" width="31" height="10.2" rx="1.5" fill="#99002e"/>
<text x="1860.2" y="189.2" font-size="8" font-weight="bold" fill="#fff" textLength="23.5" lengthAdjust="spacingAndGlyphs">0.5965</text>
<rect x="1855.7" y="192.3" width="31" height="10.2" rx="1.5" fill="#3b3bff"/>
<text x="1860.2" y="200.2" font-size="8" font-weight="bold" fill="#fff" textLength="23.5" lengthAdjust="spacingAndGlyphs">0.5956</text>
<rect x="1855.7" y="203.1" width="31" height="10.2" rx="1.5" fill="#ff14ff"/>
<text x="1860.2" y="211.0" font-size="8" font-weight="bold" fill="#fff" textLength="23.5" lengthAdjust="spacingAndGlyphs">0.5936</text>
<rect x="1855.7" y="215.3" width="31" height="10.2" rx="1.5" fill="#007a00"/>
<text x="1860.2" y="223.2" font-size="8" font-weight="bold" fill="#fff" textLength="23.5" lengthAdjust="spacingAndGlyphs">0.5933</text>
<rect x="1855.7" y="226.2" width="31" height="10.2" rx="1.5" fill="#00cc00"/>
<text x="1860.2" y="234.1" font-size="8" font-weight="bold" fill="#fff" textLength="23.5" lengthAdjust="spacingAndGlyphs">0.5923</text>
<rect x="1855.7" y="237.2" width="31" height="10.2" rx="1.5" fill="#ff3030"/>
<text x="1860.2" y="245.1" font-size="8" font-weight="bold" fill="#fff" textLength="23.5" lengthAdjust="spacingAndGlyphs">0.5898</text>
<rect x="1855.7" y="452.7" width="36" height="10" rx="1.5" fill="#3b3bff"/>
<text x="1860.2" y="460.4" font-size="8" font-weight="bold" fill="#fff" textLength="28.5" lengthAdjust="spacingAndGlyphs">60.7895</text>
<rect x="1855.7" y="466.7" width="36" height="10" rx="1.5" fill="#ff14ff"/>
<text x="1860.2" y="474.4" font-size="8" font-weight="bold" fill="#fff" textLength="28.5" lengthAdjust="spacingAndGlyphs">53.4041</text>
<rect x="1855.7" y="479" width="36" height="10" rx="1.5" fill="#0b7a52"/>
<text x="1860.2" y="486.7" font-size="8" font-weight="bold" fill="#fff" textLength="28.5" lengthAdjust="spacingAndGlyphs">45.7728</text>
<rect x="1855.7" y="489.5" width="36" height="10.5" rx="1.5" fill="#5a5a5a"/>
<text x="1860.2" y="497.7" font-size="8" font-weight="bold" fill="#fff" textLength="28.5" lengthAdjust="spacingAndGlyphs">41.3162</text>
<rect x="1855.7" y="604.3" width="31" height="9.7" rx="1.5" fill="#3b3bff"/>
<text x="1860.2" y="611.7" font-size="8" font-weight="bold" fill="#fff" textLength="23.5" lengthAdjust="spacingAndGlyphs">87.146</text>
<rect x="1855.7" y="627" width="31" height="9.9" rx="1.5" fill="#ff14ff"/>
<text x="1860.2" y="634.6" font-size="8" font-weight="bold" fill="#fff" textLength="23.5" lengthAdjust="spacingAndGlyphs">71.777</text>
<defs><clipPath id="tclip"><rect x="10" y="752" width="1845" height="20"/></clipPath></defs><g clip-path="url(#tclip)">
<text x="14" y="765" font-size="7.7" fill="#555" text-anchor="middle">Feb</text>
<text x="109" y="765" font-size="7.7" fill="#555" text-anchor="middle">Mar</text>
<text x="203.5" y="765" font-size="7.7" fill="#555" text-anchor="middle">Apr</text>
<text x="303.8" y="765" font-size="7.7" fill="#555" text-anchor="middle">May</text>
<text x="407.3" y="765" font-size="7.7" fill="#555" text-anchor="middle">Jun</text>
<text x="497.6" y="765" font-size="7.7" fill="#555" text-anchor="middle">Jul</text>
<text x="601.6" y="765" font-size="7.7" fill="#555" text-anchor="middle">Aug</text>
<text x="701.3" y="765" font-size="7.7" fill="#555" text-anchor="middle">Sep</text>
<text x="796.6" y="765" font-size="7.7" fill="#555" text-anchor="middle">Oct</text>
<text x="900.3" y="765" font-size="7.7" fill="#555" text-anchor="middle">Nov</text>
<text x="994.4" y="765" font-size="7.7" fill="#555" text-anchor="middle">Dec</text>
<text x="1085.05" y="765" font-size="7.8" font-weight="bold" fill="#333" textLength="18.3" lengthAdjust="spacingAndGlyphs">2025</text>
<text x="1197.7" y="765" font-size="7.7" fill="#555" text-anchor="middle">Feb</text>
<text x="1287.9" y="765" font-size="7.7" fill="#555" text-anchor="middle">Mar</text>
<text x="1383.2" y="765" font-size="7.7" fill="#555" text-anchor="middle">Apr</text>
<text x="1482.1" y="765" font-size="7.7" fill="#555" text-anchor="middle">May</text>
<text x="1582" y="765" font-size="7.7" fill="#555" text-anchor="middle">Jun</text>
<text x="1677" y="765" font-size="7.7" fill="#555" text-anchor="middle">Jul</text>
<text x="1780.8" y="765" font-size="7.7" fill="#555" text-anchor="middle">Aug</text>
</g>
<text x="18" y="29.6" font-size="12" fill="#444" textLength="150.6" lengthAdjust="spacingAndGlyphs">FOREX NZD=, 1D, NYS, Bid</text>
<text x="177.4" y="29.6" font-size="12" fill="#444" textLength="8.4" lengthAdjust="spacingAndGlyphs">O</text>
<text x="186.2" y="29.6" font-size="12" fill="#5b5bff" textLength="37.6" lengthAdjust="spacingAndGlyphs">0.5948</text>
<text x="232.1" y="29.6" font-size="12" fill="#444" textLength="8" lengthAdjust="spacingAndGlyphs">H</text>
<text x="240.5" y="29.6" font-size="12" fill="#5b5bff" textLength="37.1" lengthAdjust="spacingAndGlyphs">0.5971</text>
<text x="287.3" y="29.6" font-size="12" fill="#444" textLength="6.5" lengthAdjust="spacingAndGlyphs">L</text>
<text x="294.5" y="29.6" font-size="12" fill="#5b5bff" textLength="37.3" lengthAdjust="spacingAndGlyphs">0.5940</text>
<text x="339.7" y="29.6" font-size="12" fill="#444" textLength="8" lengthAdjust="spacingAndGlyphs">C</text>
<text x="347.7" y="29.6" font-size="12" fill="#5b5bff" textLength="37.3" lengthAdjust="spacingAndGlyphs">0.5956</text>
<text x="394" y="29.6" font-size="12" fill="#5b5bff" textLength="94.4" lengthAdjust="spacingAndGlyphs">-0.0003 (−0.05%)</text>
<text x="507.5" y="29.6" font-size="12" fill="#444" textLength="17" lengthAdjust="spacingAndGlyphs">MA</text>
<text x="528.8" y="29.6" font-size="12" fill="#444" textLength="68.2" lengthAdjust="spacingAndGlyphs">(4, close, 0)</text>
<text x="605.3" y="29.6" font-size="12" fill="#ff22ff" textLength="37.9" lengthAdjust="spacingAndGlyphs">0.5936</text>
<text x="661.4" y="29.6" font-size="12" fill="#444" textLength="17" lengthAdjust="spacingAndGlyphs">MA</text>
<text x="682.6999999999999" y="29.6" font-size="12" fill="#444" textLength="68.3" lengthAdjust="spacingAndGlyphs">(9, close, 0)</text>
<text x="759.3" y="29.6" font-size="12" fill="#1fc21f" textLength="37.7" lengthAdjust="spacingAndGlyphs">0.5923</text>
<text x="816" y="29.6" font-size="12" fill="#444" textLength="17" lengthAdjust="spacingAndGlyphs">MA</text>
<text x="837.3" y="29.6" font-size="12" fill="#444" textLength="74.5" lengthAdjust="spacingAndGlyphs">(25, close, 0)</text>
<text x="920.7" y="29.6" font-size="12" fill="#a0154a" textLength="37.9" lengthAdjust="spacingAndGlyphs">0.5965</text>
<text x="976.7" y="29.6" font-size="12" fill="#444" textLength="17" lengthAdjust="spacingAndGlyphs">MA</text>
<text x="998.0" y="29.6" font-size="12" fill="#444" textLength="75.3" lengthAdjust="spacingAndGlyphs">(50, close, 0)</text>
<text x="1081.4" y="29.6" font-size="12" fill="#1cc6d0" textLength="38.7" lengthAdjust="spacingAndGlyphs">0.6000</text>
<text x="1137.9" y="29.6" font-size="12" fill="#444" textLength="17" lengthAdjust="spacingAndGlyphs">MA</text>
<text x="1159.2" y="29.6" font-size="12" fill="#444" textLength="81.60000000000001" lengthAdjust="spacingAndGlyphs">(100, close, 0)</text>
<text x="1249" y="29.6" font-size="12" fill="#2a9a2a" textLength="38.3" lengthAdjust="spacingAndGlyphs">0.5933</text>
<text x="1305.7" y="29.6" font-size="12" fill="#444" textLength="17" lengthAdjust="spacingAndGlyphs">MA</text>
<text x="1327.0" y="29.6" font-size="12" fill="#444" textLength="81.7" lengthAdjust="spacingAndGlyphs">(250, close, 0)</text>
<text x="1417.5" y="29.6" font-size="12" fill="#ff4d4d" textLength="37.3" lengthAdjust="spacingAndGlyphs">0.5898</text>
<text x="18.1" y="402.8" font-size="12" fill="#444" textLength="182" lengthAdjust="spacingAndGlyphs">RSI (9, Exponential, Simple, 14)</text>
<text x="208.7" y="402.8" font-size="12" fill="#5b5bff" textLength="44.5" lengthAdjust="spacingAndGlyphs">60.7895</text>
<text x="261.5" y="402.8" font-size="12" fill="#1f8a5e" textLength="44.7" lengthAdjust="spacingAndGlyphs">45.7728</text>
<text x="324.6" y="402.8" font-size="12" fill="#444" textLength="189.5" lengthAdjust="spacingAndGlyphs">RSI (14, Exponential, Simple, 25)</text>
<text x="522.2" y="402.8" font-size="12" fill="#ff22ff" textLength="43.9" lengthAdjust="spacingAndGlyphs">53.4041</text>
<text x="575.2" y="402.8" font-size="12" fill="#666" textLength="44.8" lengthAdjust="spacingAndGlyphs">41.3162</text>
<text x="18.1" y="588.9" font-size="12" fill="#444" textLength="186" lengthAdjust="spacingAndGlyphs">Stochastic Slow (5, 3, 3, Simple)</text>
<text x="213" y="588.9" font-size="12" fill="#5b5bff" textLength="37.1" lengthAdjust="spacingAndGlyphs">87.146</text>
<text x="259.2" y="588.9" font-size="12" fill="#ff22ff" textLength="37.4" lengthAdjust="spacingAndGlyphs">71.777</text>
<text x="1866.8" y="797.7" font-size="14.6" font-weight="bold" fill="#0a14ff" textLength="38.6" lengthAdjust="spacingAndGlyphs" font-family="'DejaVu Sans',sans-serif">LSEG</text>
<g fill="#1a24ff"><path d="M1832 785 L1833.6 783.4 L1835.4 784.6 L1837.2 783.6 L1839 784.8 L1841 785.6 L1843 786.2 L1851.2 786.2 L1853.4 784.6 L1855.4 783.2 L1857.4 783.8 L1859.4 783.4 L1860.9 785.2 L1860.7 788.6 L1859.8 791.8 L1858.8 794.8 L1858 798.2 L1856.4 797.4 L1853.6 799.6 L1847.4 800.6 L1841.6 799.6 L1838.8 797.4 L1836.8 799 L1835.4 796.2 L1833.6 793 L1832.4 790 L1832.8 788 Z"/><path d="M1836.4 799.6 l0.9 1.2 l0.9 -1 z M1839.8 800 l0.8 1.1 l0.8 -0.9 z M1844.6 800.6 l1.6 0.8 l1.4 -0.7 z M1850.2 800.2 l0.9 1 l0.9 -1.1 z M1854.2 799.8 l0.7 1 l0.8 -0.9 z"/></g><g fill="#fff"><path d="M1839.2 787.6 l1 0.4 l-0.3 3 l0.8 2.6 l-0.9 2.2 l-0.8 -2.4 l0.3 -2.6 z"/><path d="M1853.6 789.2 l0.9 0.2 l0.2 2.8 l-0.6 2.6 l-0.8 -1.8 l0.2 -2.2 z"/><path d="M1833.2 791.6 l1.4 -0.6 l0.6 1.2 l-1.2 0.8 z M1835.6 787.8 l1.2 -0.4 l0.4 1 l-1.1 0.5 z M1836.2 794.6 l1 0.4 l-0.4 1.2 l-0.8 -0.6 z"/><path d="M1857.2 787.4 l1.2 -0.2 l0.2 1 l-1.2 0.4 z M1856 791 l1.2 0.2 l-0.2 1.2 l-1.1 -0.4 z M1858.2 793.4 l0.9 0.4 l-0.5 1 l-0.7 -0.5 z"/><circle cx="1845.4" cy="789.6" r="0.7"/><circle cx="1848.8" cy="789.4" r="0.7"/><circle cx="1847" cy="792.6" r="1"/><circle cx="1845.2" cy="795.2" r="0.7"/><circle cx="1849.2" cy="795.4" r="0.7"/><rect x="1843.4" y="786.9" width="7.4" height="0.5"/><path d="M1833 793.4 l1.6 0.6 l0.4 1.6 l-1 0.4 z M1834.6 797 l1.4 -0.6 l0.6 1.2 l-1.2 0.6 z M1837.4 791.8 l1.4 0.2 l-0.4 1.4 l-1.2 -0.4 z M1840.6 796.8 l1.4 0.8 l-0.8 1.2 l-1 -0.8 z M1838 789.4 l0.8 -0.6 l0.5 0.9 z"/><path d="M1859.4 790.6 l1.1 0.4 l-0.6 1.6 l-0.8 -0.6 z M1855 795 l1.4 0.4 l-0.4 1.4 l-1.2 -0.6 z M1852.4 797 l1.4 -0.2 l0.2 1.4 l-1.2 0.2 z M1857.2 796.4 l0.8 0.6 l-0.4 1 l-0.6 -0.6 z M1854.8 786.8 l0.9 -0.2 l0.1 0.9 l-0.8 0.2 z"/><path d="M1844.2 791.4 q2.8 -1.6 5.6 0 l-0.3 0.7 q-2.5 -1.3 -5 0 z M1846.4 797.2 l1.2 0 l0 0.9 l-1.2 0 z"/></g></svg></body></html>
